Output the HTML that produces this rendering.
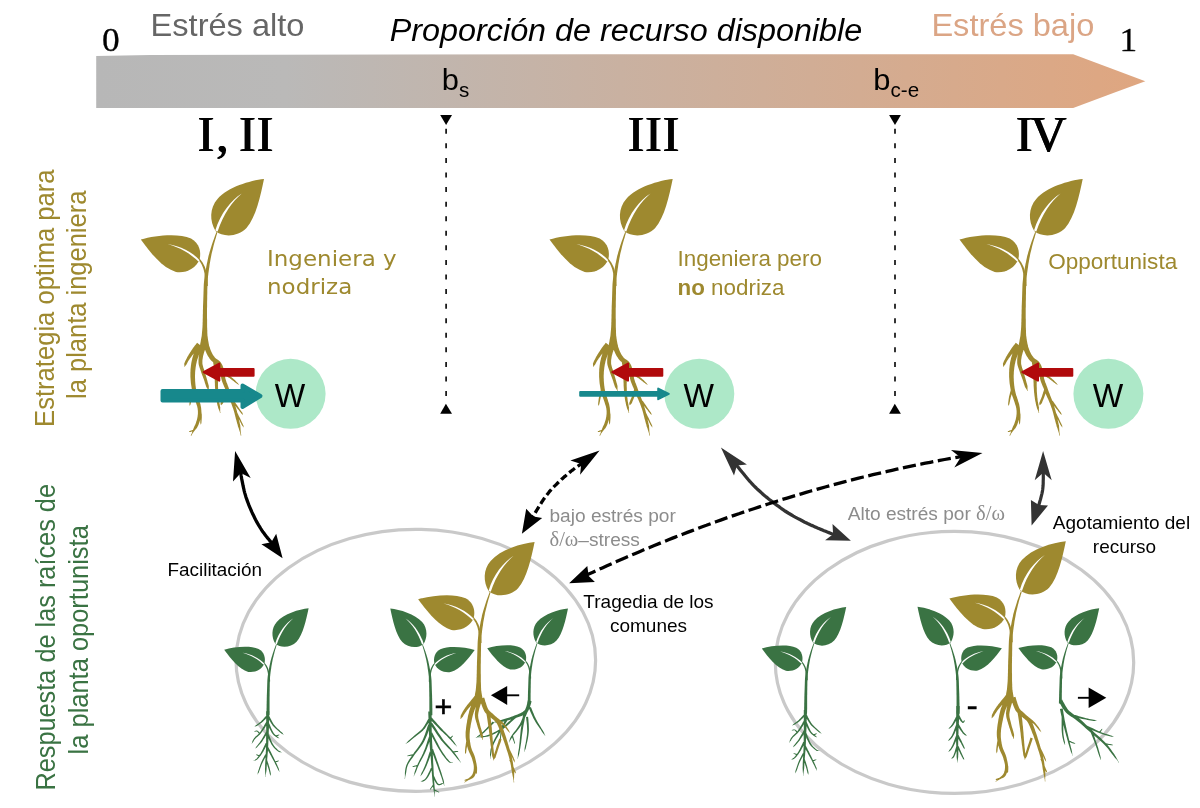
<!DOCTYPE html>
<html lang="es"><head><meta charset="utf-8"><title>Figura</title>
<style>html,body{margin:0;padding:0;background:#fff}body{width:1200px;height:808px;overflow:hidden}svg{display:block}</style>
</head><body>
<svg width="1200" height="808" viewBox="0 0 1200 808">
<defs>
<filter id="hb" x="-5%" y="-5%" width="110%" height="110%" color-interpolation-filters="sRGB"><feOffset in="SourceGraphic" dx="0.5" dy="0" result="a"/><feOffset in="SourceGraphic" dx="-0.5" dy="0" result="b"/><feMerge><feMergeNode in="a"/><feMergeNode in="b"/><feMergeNode in="SourceGraphic"/></feMerge></filter>
<linearGradient id="barg" x1="0" y1="0" x2="1" y2="0">
<stop offset="0" stop-color="#b7b7b7"/><stop offset="0.18" stop-color="#bab9b8"/><stop offset="0.5" stop-color="#c9b1a1"/><stop offset="1" stop-color="#dfa680"/>
</linearGradient>
</defs>
<defs><g id="shoot">
<path d="M264,179 C250,180.5 228,187 217.5,199 C209.5,208 209.5,221 215.5,231 C223,237.5 238,237 246.5,228 C256,217 260.5,196 264,179 Z"/>
<path d="M140.8,239.6 C155,235.5 178,233 191,238.5 C199.5,243 201.5,252 199.5,259.5 C196,268.5 186,273.5 176,272 C162,268 150,252 140.8,239.6 Z"/>
<path d="M216.4,232.0 216.1,233.0 215.6,234.2 215.1,235.6 214.5,237.2 213.9,238.9 213.2,240.7 212.6,242.4 212.1,244.0 211.6,245.6 211.1,247.2 210.6,248.8 210.1,250.4 209.6,252.0 209.2,253.7 208.7,255.3 208.3,256.9 208.0,258.6 207.6,260.2 207.3,261.9 206.9,263.5 206.6,265.2 206.3,266.8 206.0,268.4 205.8,270.0 205.5,271.4 205.3,272.7 205.0,274.0 204.8,275.3 204.6,276.6 204.4,278.1 204.2,279.9 204.0,281.9 203.8,284.3 203.7,287.0 203.6,290.0 203.5,293.1 203.4,296.2 203.3,299.2 203.2,302.0 203.1,304.5 203.0,306.6 203.0,308.6 202.9,310.4 202.9,312.1 202.9,313.6 202.8,315.1 202.8,316.6 202.8,318.0 202.7,319.3 202.7,320.5 202.7,321.7 202.6,322.8 202.6,323.8 202.6,324.8 202.5,325.9 202.5,327.0 202.4,328.1 202.3,329.2 202.2,330.4 202.1,331.5 202.0,332.6 201.9,333.8 201.8,334.9 201.7,335.9 201.5,337.0 201.3,338.1 201.1,339.1 200.9,340.1 200.8,341.1 200.6,342.1 200.4,343.1 200.2,344.0 200.1,344.9 200.0,345.8 199.8,346.7 199.7,347.5 199.6,348.3 199.5,349.0 199.4,349.6 199.3,350.0 209.7,350.0 209.6,349.5 209.5,349.0 209.4,348.3 209.3,347.5 209.1,346.7 209.0,345.8 208.9,344.9 208.8,344.0 208.6,343.1 208.5,342.2 208.3,341.2 208.1,340.2 208.0,339.2 207.8,338.2 207.7,337.1 207.5,336.1 207.4,335.0 207.4,333.9 207.3,332.8 207.3,331.6 207.3,330.5 207.2,329.3 207.2,328.2 207.1,327.0 207.1,325.9 207.1,324.9 207.1,323.8 207.1,322.8 207.1,321.7 207.1,320.6 207.1,319.4 207.0,318.0 207.0,316.6 207.0,315.2 207.0,313.7 207.0,312.1 207.0,310.4 207.0,308.6 207.1,306.7 207.1,304.5 207.1,302.1 207.2,299.3 207.2,296.3 207.3,293.2 207.3,290.1 207.4,287.2 207.5,284.4 207.6,282.1 207.7,280.2 207.8,278.5 208.0,277.1 208.1,275.7 208.3,274.5 208.4,273.2 208.6,271.9 208.8,270.4 209.0,268.9 209.3,267.3 209.5,265.6 209.7,264.0 210.0,262.4 210.3,260.7 210.6,259.1 210.9,257.5 211.2,255.9 211.5,254.2 211.9,252.6 212.3,251.0 212.7,249.4 213.1,247.7 213.5,246.1 213.9,244.6 214.3,242.9 214.8,241.2 215.3,239.4 215.9,237.7 216.3,236.0 216.8,234.5 217.1,233.3 217.4,232.4Z"/>
<path d="M197.7,259.0 197.9,259.3 198.3,259.7 198.7,260.1 199.1,260.6 199.5,261.2 200.0,261.7 200.4,262.3 200.7,263.0 201.1,263.6 201.5,264.3 201.9,265.1 202.2,265.8 202.6,266.7 202.9,267.5 203.3,268.4 203.5,269.3 203.8,270.3 204.0,271.3 204.3,272.4 204.5,273.6 204.6,274.8 204.8,275.9 204.9,277.1 205.0,278.1 205.1,279.2 205.2,280.3 205.2,281.5 205.2,282.6 205.2,283.6 205.2,284.6 205.2,285.4 205.2,286.0 207.8,286.0 207.8,285.4 207.8,284.6 207.7,283.6 207.7,282.5 207.6,281.4 207.6,280.2 207.5,279.0 207.4,277.9 207.2,276.8 207.0,275.6 206.8,274.4 206.6,273.2 206.3,272.0 206.1,270.9 205.8,269.8 205.5,268.7 205.1,267.7 204.8,266.8 204.4,265.9 203.9,265.0 203.5,264.2 203.1,263.5 202.7,262.7 202.3,262.0 201.8,261.4 201.3,260.7 200.8,260.1 200.3,259.5 199.9,259.0 199.5,258.6 199.2,258.3 198.9,258.0Z"/>
<path d="M241.8,193.6 C232.5,201.5 223.5,214 217.6,231.6 L215.3,230.6 C220.5,213.5 231,200.5 241.8,193.6 Z" fill="#fff"/>
<path d="M167.6,244 C180,245.8 192.5,252 199.6,260.2 L198.4,261.6 C191,254 180,247.5 167.6,244 Z" fill="#fff"/>
</g><g id="shootc">
<path d="M264,179 C250,180.5 228,187 217.5,199 C209.5,208 209.5,221 215.5,231 C223,237.5 238,237 246.5,228 C256,217 260.5,196 264,179 Z"/>
<path d="M140.8,239.6 C155,235.5 178,233 191,238.5 C199.5,243 201.5,252 199.5,259.5 C196,268.5 186,273.5 176,272 C162,268 150,252 140.8,239.6 Z"/>
<path d="M216.4,232.0 216.1,233.0 215.6,234.2 215.1,235.6 214.5,237.2 213.9,238.9 213.2,240.7 212.6,242.4 212.1,244.0 211.6,245.6 211.1,247.2 210.6,248.8 210.1,250.4 209.6,252.0 209.2,253.7 208.7,255.3 208.3,256.9 208.0,258.6 207.6,260.2 207.3,261.9 206.9,263.5 206.6,265.2 206.3,266.8 206.0,268.4 205.8,270.0 205.5,271.4 205.3,272.7 205.0,274.0 204.8,275.3 204.6,276.6 204.4,278.1 204.2,279.9 204.0,281.9 203.8,284.3 203.7,287.0 203.6,290.0 203.5,293.1 203.4,296.2 203.3,299.2 203.2,302.0 203.1,304.5 203.0,306.6 203.0,308.6 202.9,310.5 202.9,312.3 202.9,313.9 202.8,315.3 202.8,316.7 202.8,318.0 202.7,319.1 202.7,320.1 202.7,321.0 202.7,321.8 202.6,322.5 202.6,323.1 202.6,323.6 202.6,324.0 207.0,324.0 207.0,323.6 207.0,323.1 207.0,322.6 207.0,321.9 207.0,321.1 207.0,320.2 207.0,319.2 207.0,318.0 207.0,316.8 207.0,315.4 207.0,313.9 207.0,312.3 207.0,310.6 207.0,308.7 207.1,306.7 207.1,304.5 207.1,302.1 207.2,299.3 207.2,296.3 207.3,293.2 207.3,290.1 207.4,287.2 207.5,284.4 207.6,282.1 207.7,280.2 207.8,278.5 208.0,277.1 208.1,275.7 208.3,274.5 208.4,273.2 208.6,271.9 208.8,270.4 209.0,268.9 209.3,267.3 209.5,265.6 209.7,264.0 210.0,262.4 210.3,260.7 210.6,259.1 210.9,257.5 211.2,255.9 211.5,254.2 211.9,252.6 212.3,251.0 212.7,249.4 213.1,247.7 213.5,246.1 213.9,244.6 214.3,242.9 214.8,241.2 215.3,239.4 215.9,237.7 216.3,236.0 216.8,234.5 217.1,233.3 217.4,232.4Z"/>
<path d="M197.7,259.0 197.9,259.3 198.3,259.7 198.7,260.1 199.1,260.6 199.5,261.2 200.0,261.7 200.4,262.3 200.7,263.0 201.1,263.6 201.5,264.3 201.9,265.1 202.2,265.8 202.6,266.7 202.9,267.5 203.3,268.4 203.5,269.3 203.8,270.3 204.0,271.3 204.3,272.4 204.5,273.6 204.6,274.8 204.8,275.9 204.9,277.1 205.0,278.1 205.1,279.2 205.2,280.3 205.2,281.5 205.2,282.6 205.2,283.6 205.2,284.6 205.2,285.4 205.2,286.0 207.8,286.0 207.8,285.4 207.8,284.6 207.7,283.6 207.7,282.5 207.6,281.4 207.6,280.2 207.5,279.0 207.4,277.9 207.2,276.8 207.0,275.6 206.8,274.4 206.6,273.2 206.3,272.0 206.1,270.9 205.8,269.8 205.5,268.7 205.1,267.7 204.8,266.8 204.4,265.9 203.9,265.0 203.5,264.2 203.1,263.5 202.7,262.7 202.3,262.0 201.8,261.4 201.3,260.7 200.8,260.1 200.3,259.5 199.9,259.0 199.5,258.6 199.2,258.3 198.9,258.0Z"/>
<path d="M241.8,193.6 C232.5,201.5 223.5,214 217.6,231.6 L215.3,230.6 C220.5,213.5 231,200.5 241.8,193.6 Z" fill="#fff"/>
<path d="M167.6,244 C180,245.8 192.5,252 199.6,260.2 L198.4,261.6 C191,254 180,247.5 167.6,244 Z" fill="#fff"/>
</g><g id="shootg">
<path d="M264,179 C250,180.5 228,187 217.5,199 C209.5,208 209.5,221 215.5,231 C223,237.5 238,237 246.5,228 C256,217 260.5,196 264,179 Z"/>
<path d="M140.8,239.6 C155,235.5 178,233 191,238.5 C199.5,243 201.5,252 199.5,259.5 C196,268.5 186,273.5 176,272 C162,268 150,252 140.8,239.6 Z"/>
<path d="M216.4,232.0 216.1,233.0 215.6,234.2 215.1,235.6 214.5,237.2 213.9,238.9 213.2,240.7 212.6,242.4 212.1,244.0 211.6,245.6 211.1,247.2 210.6,248.8 210.1,250.4 209.6,252.0 209.2,253.7 208.7,255.3 208.3,256.9 208.0,258.6 207.6,260.2 207.3,261.9 206.9,263.5 206.6,265.2 206.3,266.8 206.0,268.4 205.8,270.0 205.5,271.4 205.3,272.7 205.0,274.0 204.8,275.3 204.6,276.6 204.4,278.1 204.2,279.9 204.0,281.9 203.8,284.3 203.7,287.0 203.6,290.0 203.5,293.1 203.4,296.2 203.3,299.2 203.2,302.0 203.1,304.5 203.0,306.6 203.0,308.6 202.9,310.4 202.9,312.1 202.9,313.6 202.8,315.1 202.8,316.6 202.8,318.0 202.7,319.3 202.7,320.6 202.7,321.7 202.7,322.8 202.7,323.9 202.6,324.9 202.6,325.9 202.6,327.0 202.6,328.1 202.6,329.2 202.6,330.4 202.6,331.5 202.6,332.6 202.6,333.6 202.6,334.4 202.6,335.0 206.8,335.0 206.8,334.4 206.8,333.6 206.9,332.7 206.9,331.6 206.9,330.5 206.9,329.3 207.0,328.1 207.0,327.0 207.0,326.0 207.0,324.9 207.0,323.9 207.0,322.9 207.0,321.8 207.0,320.6 207.0,319.4 207.0,318.0 207.0,316.6 207.0,315.2 207.0,313.7 207.0,312.1 207.0,310.4 207.0,308.6 207.1,306.7 207.1,304.5 207.1,302.1 207.2,299.3 207.2,296.3 207.3,293.2 207.3,290.1 207.4,287.2 207.5,284.4 207.6,282.1 207.7,280.2 207.8,278.5 208.0,277.1 208.1,275.7 208.3,274.5 208.4,273.2 208.6,271.9 208.8,270.4 209.0,268.9 209.3,267.3 209.5,265.6 209.7,264.0 210.0,262.4 210.3,260.7 210.6,259.1 210.9,257.5 211.2,255.9 211.5,254.2 211.9,252.6 212.3,251.0 212.7,249.4 213.1,247.7 213.5,246.1 213.9,244.6 214.3,242.9 214.8,241.2 215.3,239.4 215.9,237.7 216.3,236.0 216.8,234.5 217.1,233.3 217.4,232.4Z"/>
<path d="M197.7,259.0 197.9,259.3 198.3,259.7 198.7,260.1 199.1,260.6 199.5,261.2 200.0,261.7 200.4,262.3 200.7,263.0 201.1,263.6 201.5,264.3 201.9,265.1 202.2,265.8 202.6,266.7 202.9,267.5 203.3,268.4 203.5,269.3 203.8,270.3 204.0,271.3 204.3,272.4 204.5,273.6 204.6,274.8 204.8,275.9 204.9,277.1 205.0,278.1 205.1,279.2 205.2,280.3 205.2,281.5 205.2,282.6 205.2,283.6 205.2,284.6 205.2,285.4 205.2,286.0 207.8,286.0 207.8,285.4 207.8,284.6 207.7,283.6 207.7,282.5 207.6,281.4 207.6,280.2 207.5,279.0 207.4,277.9 207.2,276.8 207.0,275.6 206.8,274.4 206.6,273.2 206.3,272.0 206.1,270.9 205.8,269.8 205.5,268.7 205.1,267.7 204.8,266.8 204.4,265.9 203.9,265.0 203.5,264.2 203.1,263.5 202.7,262.7 202.3,262.0 201.8,261.4 201.3,260.7 200.8,260.1 200.3,259.5 199.9,259.0 199.5,258.6 199.2,258.3 198.9,258.0Z"/>
<path d="M241.8,193.6 C232.5,201.5 223.5,214 217.6,231.6 L215.3,230.6 C220.5,213.5 231,200.5 241.8,193.6 Z" fill="#fff"/>
<path d="M167.6,244 C180,245.8 192.5,252 199.6,260.2 L198.4,261.6 C191,254 180,247.5 167.6,244 Z" fill="#fff"/>
</g><g id="troots"><path d="M197.1,342.7 196.7,343.2 196.2,343.9 195.6,344.7 194.9,345.6 194.2,346.6 193.4,347.6 192.7,348.5 192.1,349.4 191.5,350.3 191.0,351.2 190.4,352.0 189.8,352.9 189.3,353.7 188.8,354.6 188.3,355.4 187.8,356.3 187.3,357.1 186.9,357.9 186.5,358.7 186.1,359.5 185.7,360.3 185.3,361.0 185.0,361.7 184.7,362.4 184.5,363.1 184.2,363.7 184.3,364.4 184.3,365.0 184.4,365.6 184.5,366.1 184.4,366.5 184.3,366.7 184.8,366.9 184.9,366.6 185.0,366.2 185.3,365.9 185.6,365.4 186.1,365.0 186.5,364.5 186.7,364.0 187.0,363.4 187.3,362.9 187.6,362.2 188.0,361.5 188.5,360.8 188.9,360.1 189.4,359.4 189.9,358.6 190.4,357.9 190.9,357.2 191.5,356.4 192.1,355.6 192.6,354.9 193.3,354.1 193.9,353.3 194.5,352.5 195.2,351.7 195.8,350.9 196.6,350.1 197.4,349.2 198.2,348.3 198.9,347.4 199.6,346.7 200.2,346.0 200.6,345.5Z M197.3,344.9 197.0,345.5 196.7,346.4 196.2,347.4 195.7,348.6 195.2,349.8 194.7,351.1 194.2,352.4 193.7,353.6 193.4,354.7 193.0,355.9 192.7,357.0 192.3,358.2 192.1,359.4 191.8,360.6 191.5,361.9 191.3,363.1 191.1,364.4 190.9,365.7 190.8,367.1 190.6,368.4 190.5,369.8 190.5,371.2 190.4,372.5 190.4,373.9 190.4,375.3 190.4,376.6 190.5,378.0 190.6,379.4 190.7,380.7 190.8,382.0 190.9,383.3 191.1,384.6 191.3,385.8 191.5,387.1 191.7,388.3 191.9,389.4 192.1,390.6 192.4,391.7 192.7,392.9 193.0,394.0 193.3,395.0 193.6,396.1 194.0,397.1 194.4,398.1 194.7,399.0 195.1,400.0 195.4,400.9 195.7,401.8 196.0,402.7 196.3,403.7 196.6,404.7 196.9,405.6 197.2,406.5 197.4,407.4 197.6,408.3 197.7,409.2 197.8,410.1 197.9,411.0 197.9,411.9 197.9,412.9 197.9,413.8 197.8,414.7 197.7,415.6 197.6,416.5 197.4,417.5 197.2,418.4 197.0,419.4 196.7,420.4 196.4,421.3 196.1,422.3 195.8,423.2 195.5,424.0 195.2,424.8 194.8,425.5 194.4,426.2 194.1,427.0 193.8,427.7 193.5,428.5 193.2,429.3 192.9,430.0 192.6,430.8 192.3,431.6 192.1,432.5 191.8,433.3 191.5,434.0 191.2,434.6 190.9,435.1 190.7,435.5 191.3,435.8 191.5,435.4 191.8,434.9 192.1,434.3 192.5,433.6 192.9,432.9 193.4,432.2 193.9,431.5 194.4,430.9 194.9,430.3 195.4,429.7 195.9,429.1 196.5,428.4 197.0,427.7 197.4,426.9 197.9,426.1 198.3,425.2 198.7,424.3 199.0,423.3 199.4,422.3 199.7,421.3 200.1,420.3 200.4,419.2 200.6,418.1 200.8,417.1 201.0,416.1 201.2,415.0 201.3,414.0 201.3,413.0 201.4,411.9 201.4,410.9 201.3,409.9 201.2,408.8 201.1,407.8 200.9,406.7 200.7,405.7 200.5,404.6 200.2,403.6 199.9,402.6 199.6,401.7 199.3,400.7 199.1,399.7 198.7,398.7 198.4,397.7 198.1,396.7 197.7,395.8 197.4,394.9 197.2,393.9 196.9,392.9 196.7,391.9 196.4,390.8 196.2,389.8 196.0,388.7 195.8,387.6 195.7,386.4 195.5,385.3 195.4,384.1 195.3,382.9 195.2,381.7 195.1,380.4 195.1,379.1 195.0,377.8 195.0,376.5 195.0,375.3 195.1,374.0 195.1,372.8 195.2,371.5 195.3,370.2 195.5,368.9 195.6,367.7 195.8,366.4 196.0,365.2 196.2,364.0 196.5,362.9 196.7,361.8 197.0,360.7 197.3,359.6 197.7,358.5 198.0,357.5 198.4,356.4 198.7,355.4 199.2,354.3 199.6,353.2 200.2,352.0 200.7,350.8 201.2,349.7 201.7,348.7 202.1,347.8 202.4,347.2Z M192.3,389.2 192.1,389.8 191.9,390.6 191.7,391.6 191.4,392.6 191.1,393.8 190.8,394.9 190.5,396.1 190.3,397.1 190.1,398.3 189.9,399.5 189.8,400.7 189.6,401.9 189.5,403.1 189.4,404.2 189.6,405.1 189.6,405.8 189.9,405.8 190.1,405.2 190.6,404.3 190.8,403.3 191.0,402.2 191.3,401.0 191.5,399.7 191.8,398.6 192.0,397.5 192.3,396.5 192.6,395.4 193.0,394.3 193.3,393.2 193.7,392.2 194.0,391.2 194.3,390.5 194.5,389.9Z M198.9,409.2 199.0,409.7 199.2,410.3 199.4,411.1 199.6,411.9 199.8,412.8 200.0,413.7 200.2,414.6 200.3,415.6 200.3,416.6 200.4,417.8 200.4,419.1 200.3,420.4 200.3,421.7 200.3,422.9 200.6,423.9 200.6,424.6 200.9,424.6 201.1,423.9 201.4,422.9 201.5,421.8 201.6,420.5 201.7,419.2 201.8,417.8 201.8,416.6 201.8,415.5 201.8,414.4 201.6,413.4 201.5,412.4 201.3,411.5 201.2,410.7 201.0,409.9 200.9,409.3 200.8,408.8Z M193.7,429.4 193.1,429.7 192.5,429.9 191.9,430.2 191.3,430.4 190.7,430.6 190.1,430.9 189.5,431.1 189.1,431.6 189.1,431.9 189.8,432.0 190.5,431.9 191.1,431.7 191.7,431.6 192.3,431.4 192.9,431.3 193.5,431.1 194.1,430.9Z M200.9,347.4 200.8,348.0 200.6,348.7 200.3,349.7 200.0,350.8 199.7,351.9 199.4,353.1 199.2,354.3 199.0,355.4 198.8,356.4 198.7,357.4 198.6,358.5 198.5,359.5 198.5,360.6 198.5,361.6 198.5,362.7 198.6,363.8 198.8,364.9 199.1,366.0 199.4,367.0 199.7,368.0 200.1,369.0 200.4,370.0 200.8,370.9 201.1,371.9 201.4,372.9 201.8,373.9 202.2,374.9 202.5,375.9 202.9,376.8 203.2,377.8 203.6,378.7 203.9,379.6 204.2,380.5 204.5,381.3 204.7,382.2 205.0,383.0 205.2,383.8 205.5,384.5 205.7,385.3 206.0,386.0 206.2,386.8 206.6,387.5 207.1,388.2 207.5,388.8 207.9,389.5 208.3,390.0 208.4,390.5 208.5,390.9 209.1,390.8 209.0,390.4 208.9,389.9 208.8,389.2 208.8,388.5 208.8,387.7 208.8,386.8 208.8,386.0 208.6,385.3 208.4,384.5 208.2,383.8 208.0,383.0 207.7,382.2 207.5,381.3 207.3,380.5 207.0,379.6 206.8,378.7 206.5,377.8 206.2,376.8 205.9,375.8 205.6,374.8 205.3,373.8 204.9,372.8 204.6,371.8 204.4,370.8 204.1,369.8 203.8,368.8 203.4,367.9 203.2,366.9 202.9,366.0 202.7,365.1 202.5,364.2 202.4,363.4 202.4,362.5 202.4,361.6 202.4,360.7 202.5,359.8 202.6,358.9 202.8,358.0 202.9,357.1 203.1,356.1 203.3,355.2 203.6,354.2 203.9,353.1 204.2,352.0 204.6,351.0 204.9,350.0 205.1,349.2 205.3,348.6Z M203.8,346.3 204.0,346.9 204.3,347.7 204.7,348.7 205.1,349.8 205.5,351.0 206.0,352.1 206.5,353.3 207.0,354.3 207.5,355.2 207.9,356.0 208.4,356.8 209.0,357.6 209.5,358.4 210.1,359.2 210.7,359.9 211.4,360.7 212.2,361.4 213.1,362.1 214.0,362.7 214.8,363.2 215.5,363.7 216.2,364.2 216.7,364.7 217.2,365.2 217.6,365.8 218.0,366.6 218.4,367.4 218.8,368.2 219.2,369.1 219.5,370.1 219.9,371.0 220.2,371.9 220.4,372.8 220.6,373.6 220.7,374.5 220.8,375.5 221.0,376.5 221.1,377.5 221.3,378.6 221.6,379.7 221.9,380.7 222.2,381.7 222.6,382.8 223.0,383.8 223.4,384.7 223.8,385.7 224.2,386.7 224.6,387.6 225.0,388.6 225.4,389.5 225.8,390.5 226.1,391.5 226.5,392.5 226.9,393.4 227.3,394.4 227.7,395.4 228.2,396.4 228.6,397.4 229.0,398.3 229.5,399.3 229.9,400.3 230.3,401.2 230.7,402.2 231.1,403.1 231.5,404.0 231.8,405.0 232.2,406.0 232.5,406.9 232.9,407.9 233.2,408.8 233.5,409.8 233.8,410.7 234.1,411.7 234.3,412.6 234.6,413.6 234.8,414.5 235.1,415.5 235.3,416.5 235.6,417.5 235.8,418.4 236.1,419.4 236.4,420.3 236.6,421.3 236.9,422.2 237.1,423.2 237.4,424.1 237.7,425.1 237.9,426.2 238.3,427.3 238.8,428.6 239.2,430.0 239.7,431.4 240.1,432.7 240.4,433.9 240.6,434.9 240.8,435.7 241.3,435.6 241.2,434.8 241.0,433.8 240.8,432.6 240.7,431.2 240.6,429.7 240.5,428.3 240.4,426.9 240.3,425.6 240.0,424.6 239.8,423.5 239.6,422.5 239.4,421.6 239.1,420.6 238.9,419.7 238.7,418.7 238.4,417.8 238.2,416.8 238.0,415.9 237.8,414.9 237.6,413.9 237.4,412.9 237.1,411.9 236.9,410.9 236.6,409.9 236.3,408.9 236.0,407.9 235.7,406.9 235.4,405.9 235.1,405.0 234.8,404.0 234.4,403.0 234.1,402.0 233.7,401.0 233.3,400.0 232.9,399.0 232.5,398.0 232.1,397.0 231.7,396.0 231.3,395.1 231.0,394.1 230.6,393.1 230.2,392.2 229.9,391.2 229.5,390.2 229.2,389.2 228.8,388.2 228.5,387.3 228.1,386.3 227.7,385.3 227.4,384.3 227.0,383.3 226.6,382.4 226.3,381.4 226.0,380.5 225.7,379.5 225.4,378.7 225.3,377.8 225.1,376.9 225.0,376.0 224.9,375.0 224.8,374.0 224.7,373.0 224.5,371.9 224.3,370.8 224.0,369.8 223.6,368.7 223.3,367.7 222.9,366.6 222.5,365.5 222.0,364.5 221.4,363.5 220.8,362.5 220.0,361.5 219.1,360.7 218.2,360.0 217.4,359.4 216.6,358.9 215.9,358.4 215.3,357.9 214.8,357.4 214.4,356.8 213.9,356.2 213.4,355.6 213.0,355.0 212.6,354.3 212.2,353.6 211.8,352.8 211.5,352.1 211.1,351.2 210.7,350.2 210.3,349.2 209.9,348.0 209.5,347.0 209.2,346.0 208.9,345.1 208.7,344.5Z M212.7,360.0 212.9,360.7 213.0,361.6 213.2,362.7 213.4,364.0 213.7,365.2 213.9,366.5 214.1,367.8 214.2,368.9 214.3,370.0 214.4,371.1 214.4,372.1 214.5,373.2 214.5,374.3 214.6,375.4 214.6,376.6 214.6,377.9 214.7,379.2 214.8,380.6 214.8,382.1 214.9,383.6 214.9,385.2 215.0,386.7 215.1,388.2 215.2,389.6 215.3,391.0 215.4,392.4 215.6,393.8 215.7,395.1 215.9,396.4 216.1,397.7 216.2,398.9 216.4,400.1 216.6,401.3 216.9,402.3 217.1,403.4 217.3,404.4 217.5,405.4 217.8,406.3 218.0,407.1 218.2,407.9 218.5,408.7 218.8,409.5 219.2,410.2 219.4,410.9 219.7,411.5 219.8,412.1 219.9,412.6 220.0,413.0 220.5,412.9 220.4,412.5 220.3,412.0 220.2,411.4 220.2,410.7 220.2,410.0 220.2,409.2 220.2,408.4 220.3,407.5 220.1,406.7 219.9,405.8 219.8,404.9 219.6,403.9 219.4,402.9 219.2,401.9 219.0,400.9 218.9,399.8 218.8,398.6 218.6,397.4 218.5,396.1 218.4,394.8 218.3,393.5 218.2,392.2 218.1,390.8 218.1,389.5 218.1,388.1 218.0,386.6 218.0,385.1 218.0,383.6 218.1,382.1 218.1,380.6 218.1,379.2 218.1,377.8 218.1,376.6 218.1,375.4 218.1,374.2 218.1,373.1 218.1,372.0 218.1,370.9 218.1,369.8 218.0,368.6 217.9,367.3 217.8,366.0 217.6,364.7 217.4,363.3 217.3,362.1 217.1,361.0 217.0,360.1 216.9,359.4Z M225.5,389.1 225.3,389.7 225.1,390.6 224.8,391.5 224.4,392.6 224.1,393.7 223.7,394.8 223.4,395.9 223.0,396.9 222.6,397.9 222.2,399.0 221.7,400.1 221.3,401.3 220.8,402.3 220.5,403.3 220.8,404.4 220.6,405.0 221.2,405.2 221.6,404.7 222.5,404.1 223.0,403.2 223.5,402.2 223.9,401.1 224.4,399.9 224.9,398.8 225.3,397.8 225.7,396.7 226.1,395.6 226.5,394.5 226.9,393.3 227.2,392.3 227.5,391.3 227.8,390.5 228.0,390.0Z M221.4,372.4 221.9,372.7 222.5,373.2 223.2,373.7 224.1,374.3 224.9,375.0 225.8,375.6 226.7,376.2 227.4,376.7 228.1,377.2 228.8,377.7 229.5,378.1 230.1,378.6 230.7,379.0 231.4,379.4 232.1,379.9 232.7,380.4 233.5,381.0 234.3,381.7 235.2,382.4 236.1,383.1 236.9,383.8 237.8,384.3 238.5,384.7 239.0,385.1 239.2,384.9 238.7,384.5 238.3,383.8 237.7,382.9 236.9,382.2 236.1,381.4 235.3,380.6 234.5,379.8 233.8,379.2 233.1,378.6 232.4,378.1 231.8,377.6 231.2,377.1 230.6,376.6 230.0,376.1 229.3,375.6 228.7,375.1 228.0,374.5 227.2,373.8 226.4,373.1 225.5,372.5 224.8,371.8 224.1,371.2 223.5,370.7 223.0,370.3Z M232.5,401.8 232.8,402.3 233.3,403.0 233.9,403.8 234.6,404.7 235.2,405.6 235.9,406.5 236.6,407.4 237.2,408.2 237.7,408.9 238.3,409.6 238.9,410.3 239.4,411.0 239.9,411.7 240.4,412.3 240.8,412.8 241.2,413.3 241.5,413.7 241.8,414.0 242.1,414.2 242.4,414.4 242.6,414.5 242.7,414.7 242.8,414.8 242.9,414.9 243.1,414.8 243.0,414.7 242.9,414.5 242.9,414.3 242.8,414.1 242.7,413.8 242.6,413.4 242.5,413.0 242.2,412.6 241.8,412.1 241.4,411.5 241.0,410.9 240.5,410.2 240.0,409.5 239.4,408.8 238.9,408.0 238.4,407.3 237.9,406.5 237.3,405.6 236.6,404.6 236.0,403.7 235.4,402.7 234.8,401.9 234.4,401.2 234.0,400.7Z M235.1,412.0 235.4,412.6 235.8,413.4 236.3,414.4 236.9,415.5 237.5,416.6 238.1,417.7 238.6,418.8 239.1,419.7 239.6,420.6 240.1,421.5 240.5,422.5 241.0,423.3 241.4,424.2 241.8,424.9 242.2,425.6 242.5,426.1 242.9,426.5 243.1,426.8 243.3,427.0 243.4,427.1 243.4,427.3 243.5,427.3 243.5,427.4 243.5,427.5 243.8,427.4 243.7,427.3 243.7,427.3 243.7,427.2 243.6,427.0 243.6,426.9 243.6,426.6 243.5,426.2 243.5,425.7 243.2,425.1 242.9,424.4 242.5,423.6 242.1,422.8 241.7,421.9 241.3,420.9 240.8,420.0 240.4,419.1 239.9,418.1 239.4,417.0 238.8,415.9 238.3,414.8 237.8,413.7 237.3,412.7 236.9,411.8 236.6,411.2Z"/></g></defs>
<rect width="1200" height="808" fill="#fff"/>
<g id="all" opacity="0.999">
<path d="M96.2,56 L150,55 L400,54.4 L1073.2,54.2 L1145.3,81.2 L1073.2,108 L96.2,108.1 Z" fill="url(#barg)"/>
<text transform="translate(102.00,51.00) scale(1.0800,1.0000)" font-family="'Liberation Serif',serif" font-size="32.80" fill="#000" stroke="#000" stroke-width="0.30" stroke-linejoin="round">0</text>
<text transform="translate(1119.50,51.00) scale(1.0800,1.0000)" font-family="'Liberation Serif',serif" font-size="32.80" fill="#000" stroke="#000" stroke-width="0.30" stroke-linejoin="round">1</text>
<text transform="translate(150.60,36.40) scale(1.0310,1.0000)" font-family="'Liberation Sans',sans-serif" font-size="31.60" fill="#666">Estrés alto</text>
<text transform="translate(931.40,36.40) scale(1.0310,1.0000)" font-family="'Liberation Sans',sans-serif" font-size="31.60" fill="#dba585">Estrés bajo</text>
<text transform="translate(389.80,40.50) scale(1.0070,1.0000)" font-family="'Liberation Sans',sans-serif" font-size="32.10" fill="#000" font-style="italic">Proporción de recurso disponible</text>
<text transform="translate(441.80,89.60) scale(1.0300,1.0000)" font-family="'Liberation Sans',sans-serif" font-size="30.00" fill="#000">b<tspan font-size="20" dy="7.5">s</tspan></text>
<text transform="translate(873.30,89.60) scale(1.0300,1.0000)" font-family="'Liberation Sans',sans-serif" font-size="30.00" fill="#000">b<tspan font-size="20" dy="7.5">c-e</tspan></text>
<text x="197.2 215.8 228.0 238.7 256.2" y="151.2" font-family="'Liberation Serif',serif" font-size="50.0" filter="url(#hb)">I, II</text>
<text x="627.2 644.7 662.2" y="151.2" font-family="'Liberation Serif',serif" font-size="50.0" filter="url(#hb)">III</text>
<text x="1015.4 1030.0" y="151.2" font-family="'Liberation Serif',serif" font-size="50.0" filter="url(#hb)">IV</text>
<polygon points="440.2,115 452.0,115 446.1,124.9" fill="#000"/>
<polygon points="440.2,413.8 452.0,413.8 445.9,403.7" fill="#000"/>
<line x1="446.1" y1="128.8" x2="446.1" y2="397" stroke="#000" stroke-width="1.6" stroke-dasharray="5 9.57"/>
<polygon points="889.1,115 900.9,115 895.0,124.9" fill="#000"/>
<polygon points="889.1,413.8 900.9,413.8 894.8,403.7" fill="#000"/>
<line x1="895.0" y1="128.8" x2="895.0" y2="397" stroke="#000" stroke-width="1.6" stroke-dasharray="5 9.57"/>
<text transform="translate(53.60,298.20) rotate(-90) scale(1.0000,1.0600)" font-family="'Liberation Sans',sans-serif" font-size="25.60" fill="#9e892f" text-anchor="middle">Estrategia optima para</text>
<text transform="translate(86.20,294.80) rotate(-90) scale(1.0000,1.0600)" font-family="'Liberation Sans',sans-serif" font-size="25.50" fill="#9e892f" text-anchor="middle">la planta ingeniera</text>
<text transform="translate(54.80,637.30) rotate(-90) scale(1.0000,1.0600)" font-family="'Liberation Sans',sans-serif" font-size="25.30" fill="#3a7343" text-anchor="middle">Respuesta de las raíces de</text>
<text transform="translate(87.60,639.80) rotate(-90) scale(1.0000,1.0600)" font-family="'Liberation Sans',sans-serif" font-size="25.45" fill="#3a7343" text-anchor="middle">la planta oportunista</text>
<g transform="translate(0.0,0)" fill="#9e892f" color="#9e892f"><use href="#shoot"/><use href="#troots"/></g>
<g transform="translate(408.7,0)" fill="#9e892f" color="#9e892f"><use href="#shoot"/><use href="#troots"/></g>
<g transform="translate(818.7,0)" fill="#9e892f" color="#9e892f"><use href="#shoot"/><use href="#troots"/></g>
<circle cx="290.6" cy="393.8" r="35" fill="#ade8c8"/>
<text transform="translate(290.10,406.60)" font-family="'Liberation Sans',sans-serif" font-size="32.30" fill="#000" text-anchor="middle">W</text>
<circle cx="699.3" cy="393.8" r="35" fill="#ade8c8"/>
<text transform="translate(698.80,406.60)" font-family="'Liberation Sans',sans-serif" font-size="32.30" fill="#000" text-anchor="middle">W</text>
<circle cx="1108.4" cy="393.8" r="35" fill="#ade8c8"/>
<text transform="translate(1107.90,406.60)" font-family="'Liberation Sans',sans-serif" font-size="32.30" fill="#000" text-anchor="middle">W</text>
<path transform="translate(0.0,0)" d="M253.6,368.9 L219.3,368.9 L219.3,363.6 L203.6,372.1 L219.3,380.6 L219.3,375.7 L253.6,375.7 Z" fill="#b10a0c" stroke="#b10a0c" stroke-width="2" stroke-linejoin="round"/>
<path transform="translate(408.7,0)" d="M253.6,368.9 L219.3,368.9 L219.3,363.6 L203.6,372.1 L219.3,380.6 L219.3,375.7 L253.6,375.7 Z" fill="#b10a0c" stroke="#b10a0c" stroke-width="2" stroke-linejoin="round"/>
<path transform="translate(818.7,0)" d="M253.6,368.9 L219.3,368.9 L219.3,363.6 L203.6,372.1 L219.3,380.6 L219.3,375.7 L253.6,375.7 Z" fill="#b10a0c" stroke="#b10a0c" stroke-width="2" stroke-linejoin="round"/>
<path d="M162.5,391.0 L242.5,391.0 L242.5,385.5 L260.5,396 L242.5,407 L242.5,400.6 L162.5,400.6 Z" fill="#17888c" stroke="#17888c" stroke-width="4" stroke-linejoin="round"/>
<path d="M580.2,392.0 L658.2,392.0 L658.2,388.6 L668.8,393.8 L658.2,399.2 L658.2,395.8 L580.2,395.8 Z" fill="#17888c" stroke="#17888c" stroke-width="2" stroke-linejoin="round"/>
<text transform="translate(267.00,266.00) scale(1.0450,1.0000)" font-family="'DejaVu Sans','Liberation Sans',sans-serif" font-size="22.00" fill="#9e892f">Ingeniera y</text>
<text transform="translate(267.00,294.40) scale(1.0450,1.0000)" font-family="'DejaVu Sans','Liberation Sans',sans-serif" font-size="22.00" fill="#9e892f">nodriza</text>
<text x="677.5" y="265.8" font-family="'Liberation Sans',sans-serif" font-size="22.4" fill="#9e892f">Ingeniera pero</text>
<text x="677.5" y="295.1" font-family="'Liberation Sans',sans-serif" font-size="22.4" fill="#9e892f"><tspan font-weight="bold">no</tspan> nodriza</text>
<text transform="translate(1048.20,268.80) scale(1.0150,1.0000)" font-family="'Liberation Sans',sans-serif" font-size="22.20" fill="#9e892f">Opportunista</text>
<ellipse cx="415.8" cy="660.3" rx="179.8" ry="131" fill="none" stroke="#c9c9c9" stroke-width="3.2"/>
<ellipse cx="954.5" cy="662.4" rx="179.2" ry="131" fill="none" stroke="#c9c9c9" stroke-width="3.2"/>
<text x="167.5" y="576" font-family="'Liberation Sans',sans-serif" font-size="18.9">Facilitación</text>
<text x="549.5" y="521.5" font-family="'Liberation Sans',sans-serif" font-size="19.1" fill="#8c8c8c">bajo estrés por</text>
<text x="549.5" y="545.8" font-family="'Liberation Sans',sans-serif" font-size="19.1" fill="#8c8c8c"><tspan font-family="'Liberation Serif',serif" font-size="20.5">δ/ω</tspan>–stress</text>
<text x="648.5" y="607.7" text-anchor="middle" font-family="'Liberation Sans',sans-serif" font-size="19">Tragedia de los</text>
<text x="648.5" y="631.5" text-anchor="middle" font-family="'Liberation Sans',sans-serif" font-size="19">comunes</text>
<text x="847.7" y="520.3" font-family="'Liberation Sans',sans-serif" font-size="19.1" fill="#8c8c8c">Alto estrés por <tspan font-family="'Liberation Serif',serif" font-size="20.5">δ/ω</tspan></text>
<text x="1121.5" y="529.3" text-anchor="middle" font-family="'Liberation Sans',sans-serif" font-size="19">Agotamiento del</text>
<text x="1124.5" y="553.3" text-anchor="middle" font-family="'Liberation Sans',sans-serif" font-size="19">recurso</text>
<path d="M240.3,471.1 L240.6,472.4 L240.9,474.1 L241.2,476.1 L241.6,478.4 L242.1,480.9 L242.6,483.4 L243.1,486.0 L243.7,488.5 L244.2,490.9 L244.8,493.1 L245.4,495.1 L246.0,497.2 L246.7,499.1 L247.4,501.1 L248.1,503.0 L248.8,504.9 L249.6,506.8 L250.4,508.7 L251.2,510.5 L252.0,512.4 L252.9,514.3 L253.8,516.1 L254.7,518.0 L255.6,519.8 L256.6,521.6 L257.6,523.4 L258.6,525.1 L259.7,526.8 L260.7,528.5 L261.7,530.1 L262.8,531.7 L264.0,533.3 L265.2,534.9 L266.4,536.5 L267.7,538.1 L268.9,539.5 L270.0,540.9 L271.0,542.0 L271.8,543.0 L272.4,543.8" fill="none" stroke="#000" stroke-width="3.3"/><polygon points="235.1,450.9 233.0,481.5 240.8,473.0 250.7,478.1" fill="#000"/><polygon points="282.6,558.3 261.4,544.3 271.3,542.2 276.2,533.8" fill="#000"/>
<path d="M583.6,462.2 L582.9,462.8 L581.9,463.5 L580.7,464.3 L579.4,465.2 L578.0,466.1 L576.5,467.2 L575.0,468.2 L573.6,469.3 L572.2,470.3 L571.0,471.2 L569.9,472.1 L568.8,473.0 L567.7,473.9 L566.7,474.8 L565.7,475.7 L564.6,476.6 L563.6,477.5 L562.6,478.4 L561.6,479.3 L560.6,480.3 L559.6,481.3 L558.5,482.3 L557.4,483.3 L556.4,484.3 L555.3,485.4 L554.2,486.4 L553.2,487.5 L552.2,488.5 L551.2,489.6 L550.3,490.6 L549.4,491.6 L548.6,492.7 L547.8,493.7 L547.0,494.7 L546.2,495.7 L545.5,496.7 L544.7,497.8 L544.0,498.8 L543.2,499.9 L542.5,501.0 L541.7,502.1 L541.0,503.3 L540.2,504.6 L539.4,505.8 L538.6,507.1 L537.9,508.3 L537.2,509.5 L536.5,510.7 L535.9,511.7 L535.3,512.7 L534.8,513.6 L534.3,514.4 L533.9,515.2 L533.4,515.9 L533.1,516.6 L532.7,517.3 L532.4,517.8 L532.2,518.3 L531.9,518.7 L531.7,519.1" fill="none" stroke="#000" stroke-width="3.3" stroke-dasharray="7.2 3.4"/><polygon points="599.6,450.6 570.4,460.5 581.2,464.0 580.1,474.8" fill="#000"/><polygon points="521.9,533.8 526.2,508.8 533.4,516.6 542.2,517.9" fill="#000"/>
<path d="M735.6,464.0 L736.4,465.0 L737.5,466.4 L738.8,468.0 L740.3,469.9 L741.8,471.8 L743.5,473.8 L745.1,475.8 L746.7,477.7 L748.2,479.5 L749.6,481.1 L750.9,482.5 L752.1,483.8 L753.3,485.1 L754.5,486.3 L755.7,487.5 L756.8,488.6 L758.0,489.7 L759.2,490.8 L760.3,491.8 L761.5,492.9 L762.7,494.0 L763.8,495.0 L765.0,495.9 L766.1,496.9 L767.3,497.8 L768.4,498.8 L769.6,499.7 L770.8,500.6 L772.1,501.6 L773.4,502.6 L774.7,503.6 L776.1,504.6 L777.5,505.7 L779.0,506.7 L780.4,507.8 L781.9,508.9 L783.4,509.9 L785.0,511.0 L786.6,512.0 L788.2,513.0 L789.9,514.0 L791.6,515.0 L793.4,516.1 L795.2,517.1 L797.1,518.1 L798.9,519.1 L800.8,520.0 L802.6,521.0 L804.3,521.9 L806.0,522.7 L807.6,523.5 L809.2,524.2 L810.7,525.0 L812.2,525.6 L813.7,526.3 L815.1,526.9 L816.6,527.6 L818.0,528.2 L819.5,528.8 L820.9,529.4 L822.4,530.0 L824.0,530.7 L825.6,531.3 L827.3,532.0 L828.9,532.6 L830.4,533.2 L831.8,533.8 L833.1,534.2 L834.1,534.7 L835.0,535.0" fill="none" stroke="#333" stroke-width="3.3"/><polygon points="720.9,447.6 734.0,475.4 736.9,465.5 746.9,464.4" fill="#333"/><polygon points="850.9,540.8 832.5,523.9 833.1,534.3 825.1,540.2" fill="#333"/>
<path d="M583.4,576.5 L587.6,574.6 L592.9,572.2 L597.6,570.0 L602.3,567.9 L607.0,565.8 L611.8,563.7 L616.5,561.6 L621.2,559.5 L625.9,557.5 L630.7,555.4 L635.4,553.4 L640.1,551.4 L644.8,549.4 L649.6,547.5 L654.3,545.5 L659.0,543.6 L663.8,541.7 L668.5,539.8 L673.2,537.9 L677.9,536.1 L682.7,534.2 L687.4,532.4 L692.2,530.6 L696.9,528.8 L701.6,527.0 L706.4,525.3 L711.1,523.5 L715.9,521.8 L720.6,520.1 L725.3,518.4 L730.1,516.7 L734.8,515.1 L739.6,513.5 L744.3,511.8 L749.1,510.2 L753.8,508.7 L758.6,507.1 L763.3,505.5 L768.1,504.0 L772.8,502.5 L777.6,501.0 L782.3,499.5 L787.1,498.1 L791.9,496.6 L796.6,495.2 L801.4,493.8 L806.1,492.4 L810.9,491.0 L815.7,489.7 L820.4,488.3 L825.2,487.0 L829.9,485.7 L834.7,484.4 L839.5,483.1 L844.2,481.9 L849.0,480.6 L853.8,479.4 L858.6,478.2 L863.3,477.0 L868.1,475.9 L872.9,474.7 L877.6,473.6 L882.4,472.5 L887.2,471.4 L892.0,470.3 L896.8,469.2 L901.5,468.2 L906.3,467.1 L911.1,466.1 L915.9,465.1 L920.7,464.2 L925.4,463.2 L930.2,462.3 L935.0,461.3 L939.8,460.4 L944.6,459.5 L949.4,458.7 L954.2,457.8 L959.6,456.9 L963.7,456.1" fill="none" stroke="#000" stroke-width="3.3" stroke-dasharray="13.2 4.6"/><polygon points="982.5,453.1 951.0,450.1 960.6,457.4 954.3,467.6" fill="#000"/><polygon points="569.1,583.3 587.3,566.0 588.7,576.0 594.9,582.0" fill="#000"/>
<path d="M1043.3,470.8 L1043.3,471.9 L1043.3,473.4 L1043.3,475.1 L1043.3,477.0 L1043.3,479.1 L1043.2,481.2 L1043.2,483.4 L1043.1,485.5 L1042.9,487.6 L1042.7,489.5 L1042.4,491.4 L1042.0,493.3 L1041.5,495.4 L1041.0,497.4 L1040.5,499.4 L1039.9,501.2 L1039.4,503.0 L1039.0,504.5 L1038.6,505.9 L1038.3,506.9" fill="none" stroke="#333" stroke-width="3.2"/><polygon points="1043.1,450.9 1034.7,480.2 1043.3,472.8 1051.7,480.2" fill="#333"/><polygon points="1031.6,525.4 1030.9,500.0 1039.0,505.0 1048.0,505.6" fill="#333"/>
<g transform="translate(308.6,608.2) scale(0.685,0.685) translate(-264,-179)" fill="#3a7343" color="#3a7343"><use href="#shootg"/></g>
<g fill="#3a7343" transform="translate(0.0,0.0)"><path d="M266.2,711.3 266.2,712.6 266.2,714.3 266.2,716.4 266.2,718.7 266.2,721.2 266.2,723.7 266.2,726.2 266.2,728.6 266.2,731.0 266.1,733.5 266.1,736.1 266.1,738.6 266.1,741.2 266.1,743.7 266.0,746.1 266.0,748.4 265.9,750.5 265.8,752.4 265.7,754.3 265.6,756.2 265.5,757.9 265.4,759.7 265.3,761.4 265.2,763.2 265.1,765.1 265.1,767.0 265.0,769.0 265.1,771.0 265.2,772.8 265.4,774.5 265.4,775.8 265.4,776.9 265.7,776.9 265.7,775.8 265.9,774.5 266.1,772.8 266.4,771.0 266.6,769.1 266.7,767.1 266.8,765.2 266.9,763.3 267.0,761.6 267.2,759.8 267.3,758.1 267.5,756.3 267.6,754.5 267.8,752.6 268.0,750.6 268.1,748.5 268.2,746.2 268.3,743.8 268.4,741.3 268.5,738.7 268.6,736.1 268.7,733.5 268.8,731.0 268.9,728.6 269.0,726.2 269.0,723.7 269.1,721.2 269.2,718.7 269.2,716.4 269.3,714.4 269.3,712.6 269.4,711.3Z M266.3,715.6 265.9,716.1 265.3,716.8 264.5,717.6 263.7,718.5 262.9,719.4 262.0,720.3 261.2,721.2 260.4,721.9 259.6,722.5 258.8,723.2 257.9,723.8 257.0,724.4 256.2,725.0 255.5,725.6 255.0,726.2 254.6,726.5 254.7,726.7 255.2,726.5 256.0,726.3 256.8,725.9 257.7,725.4 258.6,724.8 259.5,724.2 260.4,723.6 261.3,723.0 262.2,722.2 263.1,721.4 264.0,720.5 264.9,719.7 265.8,718.8 266.6,718.0 267.2,717.4 267.7,716.9Z M266.2,721.9 265.7,722.7 265.1,723.8 264.4,725.1 263.6,726.5 262.7,728.0 261.9,729.4 261.0,730.8 260.2,731.9 259.5,732.8 258.7,733.7 257.9,734.4 257.1,735.2 256.3,735.9 255.5,736.6 254.8,737.4 254.2,738.1 253.6,738.9 253.1,739.8 252.7,740.6 252.3,741.4 252.1,742.2 252.0,742.9 251.8,743.5 251.6,743.9 251.8,744.0 252.0,743.6 252.3,743.1 252.7,742.5 253.2,741.9 253.7,741.1 254.1,740.3 254.6,739.6 255.1,738.9 255.7,738.2 256.4,737.6 257.2,736.9 258.0,736.2 258.8,735.5 259.7,734.7 260.6,733.8 261.4,732.8 262.3,731.6 263.2,730.3 264.1,728.9 265.1,727.4 265.9,726.0 266.7,724.8 267.4,723.7 267.9,722.9Z M265.9,731.8 265.6,732.5 265.1,733.5 264.5,734.6 263.8,735.8 263.1,737.0 262.4,738.3 261.7,739.5 261.0,740.6 260.3,741.6 259.5,742.7 258.6,743.8 257.7,744.9 256.9,745.9 256.2,746.8 255.7,747.7 255.3,748.3 255.5,748.5 256.0,748.0 256.9,747.4 257.7,746.6 258.6,745.6 259.5,744.6 260.5,743.5 261.4,742.4 262.2,741.4 262.9,740.3 263.7,739.1 264.5,737.9 265.3,736.6 266.0,735.4 266.7,734.4 267.2,733.5 267.6,732.8Z M265.7,743.0 265.3,743.7 264.9,744.7 264.4,745.8 263.8,747.0 263.2,748.3 262.6,749.5 262.0,750.7 261.4,751.7 260.9,752.7 260.3,753.7 259.6,754.6 259.0,755.5 258.4,756.3 257.8,757.1 257.3,757.8 256.7,758.4 256.2,758.9 255.7,759.2 255.2,759.5 254.8,759.9 254.4,760.2 254.0,760.4 253.6,760.6 253.4,760.7 253.5,760.9 253.7,760.8 254.1,760.7 254.6,760.6 255.1,760.6 255.7,760.5 256.3,760.1 256.9,759.7 257.5,759.2 258.1,758.6 258.8,757.9 259.4,757.1 260.1,756.3 260.8,755.4 261.4,754.4 262.1,753.5 262.7,752.5 263.4,751.5 264.0,750.3 264.7,749.0 265.4,747.8 266.0,746.6 266.6,745.5 267.0,744.6 267.4,743.9Z M265.3,754.2 265.0,754.9 264.5,755.7 264.0,756.7 263.4,757.9 262.8,759.1 262.1,760.4 261.5,761.7 261.0,763.0 260.4,764.4 259.9,765.9 259.3,767.6 258.8,769.2 258.3,770.8 257.8,772.2 257.7,773.5 257.5,774.4 257.7,774.4 258.1,773.6 258.8,772.5 259.3,771.1 259.9,769.6 260.4,767.9 261.0,766.4 261.6,764.8 262.2,763.5 262.8,762.3 263.4,761.0 264.1,759.8 264.7,758.6 265.3,757.5 265.9,756.5 266.4,755.6 266.7,755.0Z M267.4,716.7 267.8,717.4 268.3,718.3 268.9,719.4 269.6,720.6 270.4,721.9 271.1,723.2 271.9,724.3 272.6,725.4 273.3,726.2 274.1,727.1 274.8,727.8 275.6,728.5 276.4,729.2 277.1,729.8 277.8,730.4 278.5,731.0 279.2,731.7 279.9,732.3 280.7,732.9 281.4,733.5 282.1,733.9 282.8,734.3 283.4,734.6 283.8,734.9 283.9,734.7 283.6,734.4 283.1,733.9 282.7,733.3 282.1,732.6 281.4,732.0 280.7,731.4 280.0,730.8 279.3,730.1 278.7,729.5 278.0,728.9 277.2,728.2 276.5,727.5 275.8,726.8 275.1,726.1 274.5,725.3 273.8,724.4 273.2,723.5 272.5,722.3 271.8,721.1 271.2,719.8 270.5,718.6 270.0,717.4 269.5,716.5 269.1,715.8Z M267.4,724.1 267.8,724.9 268.3,725.9 268.9,727.2 269.6,728.7 270.3,730.1 271.1,731.6 271.9,732.9 272.7,734.0 273.5,734.9 274.4,735.7 275.4,736.5 276.3,737.1 277.2,737.7 278.1,738.1 278.8,738.3 279.3,738.6 279.5,738.4 279.0,738.0 278.5,737.4 277.8,736.8 276.9,736.2 276.1,735.5 275.2,734.8 274.5,734.0 273.8,733.2 273.1,732.1 272.4,730.8 271.8,729.4 271.1,728.0 270.5,726.5 270.0,725.2 269.5,724.1 269.1,723.3Z M267.1,735.2 267.5,736.0 267.9,737.0 268.5,738.3 269.1,739.7 269.8,741.2 270.5,742.6 271.2,743.9 271.8,745.1 272.6,746.1 273.3,747.1 274.1,748.0 274.9,748.8 275.7,749.5 276.5,750.2 277.2,750.8 277.8,751.3 278.5,751.8 279.1,752.1 279.7,752.2 280.3,752.2 280.8,752.2 281.2,752.2 281.6,752.2 281.9,752.2 281.9,752.0 281.6,751.9 281.3,751.9 280.9,751.7 280.4,751.6 280.0,751.3 279.5,751.1 279.0,750.8 278.5,750.4 277.9,749.9 277.3,749.3 276.6,748.6 275.8,747.9 275.1,747.1 274.4,746.2 273.7,745.3 273.1,744.3 272.5,743.2 271.9,741.9 271.3,740.5 270.7,739.0 270.1,737.6 269.6,736.3 269.2,735.2 268.9,734.4Z M266.4,747.6 266.8,748.4 267.4,749.4 268.1,750.6 268.8,751.9 269.6,753.3 270.3,754.8 271.1,756.1 271.8,757.4 272.5,758.7 273.2,760.0 273.9,761.3 274.6,762.6 275.2,763.9 275.8,765.1 276.4,766.2 276.9,767.2 277.3,768.1 277.7,768.9 278.0,769.6 278.4,770.2 278.7,770.7 279.0,771.2 279.2,771.6 279.3,772.0 279.5,771.9 279.4,771.5 279.3,771.1 279.2,770.6 279.1,769.9 279.0,769.2 278.7,768.5 278.3,767.6 277.9,766.7 277.5,765.7 277.0,764.6 276.4,763.3 275.7,762.0 275.1,760.7 274.4,759.3 273.8,758.0 273.2,756.7 272.5,755.4 271.8,754.0 271.1,752.5 270.3,751.1 269.7,749.7 269.0,748.5 268.5,747.5 268.1,746.7Z M265.8,761.1 266.0,761.6 266.3,762.4 266.6,763.3 267.0,764.3 267.4,765.3 267.7,766.4 268.1,767.4 268.4,768.4 268.7,769.4 269.0,770.4 269.2,771.5 269.5,772.5 269.7,773.5 270.0,774.4 270.4,775.1 270.6,775.7 270.9,775.6 270.8,775.0 270.9,774.2 270.8,773.3 270.6,772.3 270.4,771.2 270.1,770.1 269.9,769.0 269.6,768.0 269.4,767.0 269.0,766.0 268.7,764.9 268.4,763.8 268.0,762.8 267.7,761.9 267.5,761.1 267.3,760.5Z M260.1,733.1 259.9,732.9 259.6,732.7 259.3,732.3 259.0,731.9 258.6,731.5 258.2,731.2 257.7,730.9 257.3,730.6 256.8,730.6 256.3,730.6 255.8,730.7 255.4,730.8 255.0,731.0 254.6,731.1 254.4,731.4 254.1,731.5 254.2,731.7 254.4,731.6 254.8,731.7 255.2,731.7 255.6,731.6 256.0,731.5 256.4,731.4 256.7,731.5 257.0,731.5 257.2,731.7 257.5,731.9 257.8,732.3 258.1,732.7 258.4,733.1 258.7,733.4 258.9,733.8 259.1,734.0Z M275.9,736.7 276.3,736.5 276.8,736.3 277.3,736.1 277.7,735.9 278.2,735.7 278.6,735.5 279.1,735.3 279.4,734.9 279.4,734.7 278.8,734.6 278.4,734.7 277.9,734.8 277.4,735.0 276.9,735.1 276.4,735.2 276.0,735.3 275.5,735.4Z M259.8,755.2 259.3,755.1 258.9,755.0 258.4,754.9 257.9,754.8 257.4,754.6 256.9,754.5 256.5,754.4 255.9,754.5 255.9,754.7 256.2,755.1 256.7,755.3 257.1,755.5 257.6,755.7 258.0,755.9 258.5,756.1 258.9,756.3 259.4,756.5Z M275.1,762.6 275.6,762.5 276.1,762.3 276.6,762.1 277.1,761.9 277.6,761.7 278.0,761.5 278.5,761.3 278.9,760.9 278.9,760.7 278.3,760.6 277.8,760.7 277.3,760.8 276.8,761.0 276.3,761.1 275.8,761.2 275.3,761.3 274.8,761.4Z"/></g>
<g transform="translate(390.3,608.4) scale(-0.685,0.685) translate(-264,-179)" fill="#3a7343" color="#3a7343"><use href="#shootg"/></g>
<g fill="#3a7343" transform="translate(0.0,0.0)"><path d="M428.3,711.5 428.3,713.4 428.4,715.9 428.5,718.9 428.6,722.3 428.7,725.8 428.8,729.3 428.9,732.7 429.1,735.8 429.2,738.6 429.4,741.4 429.6,744.1 429.8,746.8 430.0,749.4 430.3,752.1 430.5,754.7 430.7,757.4 430.9,760.1 431.1,762.9 431.3,765.7 431.5,768.5 431.7,771.2 431.9,773.9 432.1,776.5 432.3,779.0 432.5,781.5 432.8,784.1 433.0,786.7 433.4,789.1 433.8,791.4 434.2,793.4 434.5,795.2 434.6,796.5 435.0,796.5 434.8,795.1 434.8,793.4 434.7,791.3 434.8,789.0 434.6,786.5 434.4,783.9 434.2,781.4 434.1,778.9 433.9,776.4 433.8,773.8 433.6,771.1 433.5,768.3 433.4,765.6 433.2,762.8 433.1,760.0 433.0,757.3 432.8,754.6 432.7,751.9 432.5,749.3 432.4,746.6 432.2,744.0 432.1,741.3 432.0,738.5 431.9,735.7 431.8,732.6 431.7,729.3 431.7,725.7 431.7,722.2 431.6,718.9 431.6,715.9 431.6,713.3 431.6,711.4Z M428.2,719.0 427.8,719.8 427.2,720.8 426.6,722.0 425.9,723.3 425.1,724.6 424.3,726.0 423.4,727.3 422.5,728.4 421.6,729.5 420.5,730.5 419.3,731.6 418.1,732.6 416.9,733.6 415.6,734.6 414.4,735.6 413.3,736.6 412.2,737.5 411.0,738.5 409.9,739.5 408.7,740.5 407.7,741.5 406.9,742.4 406.2,743.2 405.6,743.7 405.7,743.9 406.3,743.4 407.3,742.9 408.4,742.3 409.5,741.4 410.6,740.5 411.8,739.5 413.0,738.6 414.2,737.6 415.3,736.7 416.5,735.8 417.8,734.8 419.1,733.8 420.4,732.8 421.6,731.8 422.8,730.7 423.8,729.6 424.9,728.4 425.8,727.0 426.7,725.6 427.6,724.3 428.4,723.0 429.0,721.8 429.6,720.8 430.0,720.1Z M428.2,724.5 427.8,725.8 427.2,727.5 426.6,729.6 425.8,731.8 425.0,734.2 424.1,736.5 423.2,738.7 422.3,740.7 421.3,742.5 420.2,744.2 419.0,746.0 417.8,747.7 416.5,749.4 415.3,751.0 414.1,752.6 413.1,754.2 412.1,755.6 411.1,757.0 410.2,758.3 409.3,759.6 408.4,760.9 407.7,762.3 407.0,763.7 406.3,765.2 405.8,766.9 405.4,768.8 405.1,770.8 404.9,772.8 404.9,774.7 404.9,776.4 404.8,777.9 404.7,778.9 405.0,779.0 405.1,777.9 405.3,776.5 405.7,774.8 406.1,772.9 406.4,771.0 406.7,769.1 407.1,767.3 407.6,765.7 408.2,764.3 408.9,763.0 409.7,761.7 410.5,760.5 411.4,759.2 412.4,757.9 413.4,756.6 414.4,755.1 415.5,753.6 416.7,752.1 417.9,750.4 419.2,748.8 420.5,747.1 421.8,745.3 423.0,743.5 424.1,741.6 425.1,739.6 426.1,737.3 427.1,735.0 428.0,732.6 428.8,730.3 429.5,728.3 430.1,726.6 430.5,725.4Z M428.9,736.7 428.5,737.9 428.0,739.5 427.4,741.3 426.7,743.4 426.0,745.5 425.3,747.7 424.5,749.7 423.7,751.6 423.0,753.4 422.2,755.1 421.3,756.9 420.4,758.6 419.5,760.3 418.7,762.0 417.9,763.6 417.2,765.2 416.5,766.7 415.9,768.4 415.3,769.9 414.8,771.5 414.4,772.9 414.2,774.3 413.9,775.4 413.6,776.2 413.9,776.3 414.2,775.5 414.6,774.4 415.3,773.2 415.9,771.9 416.5,770.4 417.1,768.8 417.7,767.2 418.4,765.7 419.1,764.2 419.9,762.6 420.8,761.0 421.7,759.3 422.7,757.6 423.6,755.8 424.5,754.1 425.3,752.3 426.1,750.4 427.0,748.3 427.8,746.1 428.6,744.0 429.3,742.0 430.0,740.1 430.5,738.6 430.9,737.4Z M429.7,751.6 429.4,752.7 428.9,754.1 428.4,755.8 427.8,757.7 427.1,759.7 426.5,761.6 425.8,763.5 425.2,765.1 424.5,766.7 423.8,768.3 423.1,769.9 422.3,771.4 421.6,772.8 421.1,774.1 420.7,775.3 420.4,776.2 420.6,776.3 421.1,775.5 421.9,774.6 422.7,773.4 423.4,772.0 424.3,770.5 425.1,768.9 425.9,767.3 426.6,765.7 427.3,764.1 428.0,762.2 428.8,760.3 429.5,758.3 430.2,756.4 430.8,754.8 431.3,753.3 431.7,752.3Z M431.0,767.7 430.6,768.6 430.0,769.9 429.3,771.4 428.5,773.0 427.7,774.7 426.9,776.2 426.1,777.5 425.4,778.5 424.7,779.2 424.0,779.7 423.3,780.1 422.6,780.4 422.0,780.7 421.4,781.1 420.9,781.4 420.4,781.5 420.5,781.8 420.9,781.6 421.5,781.6 422.2,781.7 423.0,781.5 423.8,781.2 424.7,780.8 425.6,780.1 426.4,779.3 427.2,778.3 428.1,776.9 429.0,775.4 429.9,773.7 430.7,772.1 431.5,770.6 432.1,769.4 432.6,768.5Z M429.8,719.0 430.6,719.9 431.7,721.0 432.9,722.3 434.3,723.8 435.8,725.3 437.3,726.8 438.7,728.3 440.0,729.7 441.3,730.9 442.6,732.1 443.8,733.3 445.1,734.5 446.3,735.6 447.5,736.8 448.6,737.9 449.6,738.9 450.7,740.0 451.7,741.2 452.7,742.3 453.7,743.5 454.6,744.4 455.6,745.3 456.3,746.0 456.8,746.6 457.0,746.5 456.5,745.8 456.0,745.0 455.4,743.9 454.6,742.7 453.7,741.5 452.7,740.3 451.7,739.1 450.7,738.0 449.7,736.8 448.6,735.7 447.4,734.5 446.2,733.3 445.0,732.1 443.8,730.9 442.6,729.6 441.4,728.3 440.2,727.0 438.8,725.4 437.4,723.9 436.0,722.3 434.6,720.7 433.4,719.4 432.4,718.2 431.6,717.4Z M430.3,724.3 431.1,725.5 432.2,727.2 433.6,729.3 435.1,731.5 436.7,733.9 438.3,736.2 439.9,738.4 441.3,740.4 442.7,742.1 444.2,743.7 445.6,745.3 447.0,746.8 448.4,748.2 449.8,749.6 451.1,751.0 452.3,752.4 453.5,753.9 454.8,755.4 456.0,756.9 457.1,758.5 458.3,759.8 459.4,761.0 460.3,762.0 460.9,762.8 461.1,762.7 460.5,761.8 459.8,760.7 459.0,759.3 458.1,757.7 457.0,756.2 455.8,754.6 454.6,753.0 453.4,751.5 452.2,750.0 450.9,748.6 449.6,747.1 448.2,745.6 446.9,744.1 445.5,742.6 444.2,740.9 442.8,739.2 441.5,737.3 440.0,735.1 438.4,732.7 436.9,730.3 435.5,728.1 434.2,726.0 433.1,724.2 432.3,722.9Z M430.4,733.5 431.1,734.9 432.1,736.8 433.3,739.1 434.7,741.6 436.1,744.2 437.5,746.7 438.8,749.0 440.1,751.0 441.2,752.7 442.3,754.4 443.5,756.0 444.6,757.4 445.6,758.7 446.6,759.9 447.6,760.9 448.4,761.8 449.2,762.4 450.0,762.8 450.7,762.9 451.3,763.0 451.8,762.9 452.3,762.9 452.6,762.8 452.9,762.9 452.9,762.6 452.6,762.6 452.2,762.6 451.8,762.6 451.4,762.5 450.9,762.4 450.4,762.1 449.9,761.6 449.2,761.0 448.5,760.1 447.6,759.1 446.6,757.9 445.6,756.6 444.6,755.1 443.5,753.6 442.5,751.9 441.4,750.2 440.2,748.2 439.0,745.9 437.7,743.3 436.3,740.7 435.0,738.2 433.9,735.9 432.9,734.0 432.2,732.6Z M431.1,749.6 431.6,750.9 432.2,752.6 433.0,754.6 433.9,756.8 434.8,759.2 435.7,761.5 436.5,763.7 437.3,765.7 437.9,767.6 438.6,769.4 439.3,771.2 439.9,773.0 440.5,774.7 441.1,776.3 441.6,777.8 442.0,779.1 442.4,780.3 442.7,781.4 443.0,782.4 443.3,783.2 443.6,784.0 443.9,784.7 444.0,785.2 444.1,785.7 444.4,785.7 444.3,785.2 444.2,784.6 444.1,783.9 444.1,783.1 444.0,782.1 443.8,781.1 443.6,780.0 443.2,778.8 442.8,777.4 442.3,775.9 441.8,774.3 441.3,772.5 440.7,770.8 440.1,768.9 439.4,767.0 438.8,765.2 438.1,763.1 437.3,760.9 436.5,758.5 435.7,756.2 434.9,753.9 434.1,751.9 433.5,750.2 433.1,748.9Z M432.4,776.7 432.8,777.3 433.3,778.3 433.9,779.5 434.6,780.7 435.3,782.0 436.1,783.2 436.9,784.2 437.7,784.9 438.6,785.2 439.5,785.2 440.4,785.0 441.3,784.7 442.0,784.3 442.6,783.8 443.1,783.3 443.5,783.1 443.4,782.9 442.9,783.0 442.3,783.1 441.5,783.3 440.8,783.6 440.1,783.9 439.4,784.0 438.8,784.0 438.4,783.8 437.9,783.3 437.2,782.4 436.6,781.3 435.9,780.0 435.3,778.7 434.8,777.5 434.3,776.5 433.9,775.8Z M413.6,754.0 412.8,754.2 411.9,754.4 411.1,754.6 410.3,754.8 409.4,755.0 408.6,755.2 407.8,755.4 407.0,755.9 407.0,756.1 407.9,756.2 408.8,756.1 409.6,756.0 410.5,755.8 411.3,755.7 412.2,755.6 413.0,755.5 413.9,755.3Z M417.6,764.8 417.0,765.0 416.3,765.2 415.6,765.4 415.0,765.6 414.3,765.8 413.6,766.0 413.0,766.2 412.4,766.7 412.4,766.9 413.2,767.0 413.8,766.9 414.5,766.8 415.2,766.6 415.9,766.5 416.6,766.4 417.3,766.2 418.0,766.1Z M450.7,738.9 451.0,738.6 451.3,738.2 451.6,737.8 451.9,737.5 452.2,737.1 452.5,736.7 452.8,736.4 452.9,735.8 452.8,735.7 452.3,735.8 451.9,736.1 451.5,736.4 451.2,736.7 450.8,737.0 450.4,737.3 450.0,737.6 449.7,738.0Z M452.9,752.6 453.6,752.5 454.3,752.4 455.0,752.3 455.6,752.2 456.3,752.1 457.0,752.0 457.6,751.9 458.3,751.5 458.3,751.3 457.6,751.1 456.9,751.1 456.2,751.1 455.5,751.1 454.8,751.2 454.2,751.2 453.5,751.2 452.8,751.2Z M433.7,790.4 434.4,790.7 435.1,791.0 435.8,791.3 436.4,791.6 437.1,791.8 437.8,792.1 438.5,792.4 439.3,792.5 439.4,792.4 438.9,791.7 438.2,791.4 437.6,791.0 436.9,790.6 436.3,790.2 435.6,789.9 435.0,789.5 434.3,789.1Z M433.4,783.9 432.9,784.6 432.5,785.3 432.0,786.0 431.5,786.7 431.1,787.4 430.6,788.1 430.1,788.8 429.9,789.7 430.0,789.8 430.8,789.3 431.3,788.6 431.8,788.0 432.4,787.3 432.9,786.7 433.5,786.0 434.0,785.4 434.5,784.8Z"/></g>
<g transform="translate(568.0,608.4) scale(0.656,0.656) translate(-264,-179)" fill="#3a7343" color="#3a7343"><use href="#shootc"/></g>
<g fill="#3a7343" transform="translate(0.0,0.0)"><path d="M528.0,700.1 527.7,701.0 527.4,702.3 527.1,703.7 526.7,705.2 526.3,706.7 525.7,708.2 525.2,709.4 524.5,710.4 523.7,711.1 522.7,711.9 521.6,712.5 520.3,713.2 519.0,713.8 517.5,714.4 516.0,714.9 514.5,715.6 512.9,716.2 511.2,716.8 509.5,717.4 507.7,718.0 505.9,718.5 504.2,719.0 502.6,719.5 501.2,719.9 499.9,720.2 498.7,720.5 497.5,720.8 496.5,721.2 495.5,721.5 494.7,721.8 493.9,721.9 493.3,722.0 493.4,722.5 494.0,722.4 494.7,722.3 495.6,722.4 496.7,722.5 497.8,722.6 499.0,722.5 500.3,722.2 501.7,721.9 503.2,721.6 504.8,721.2 506.6,720.8 508.4,720.3 510.2,719.8 512.0,719.3 513.8,718.7 515.4,718.2 517.0,717.6 518.5,717.1 520.0,716.6 521.6,716.0 523.0,715.3 524.4,714.6 525.8,713.7 527.0,712.6 528.1,711.2 528.9,709.6 529.6,707.9 530.2,706.2 530.7,704.6 531.1,703.2 531.4,702.0 531.6,701.2Z M492.7,721.6 491.9,722.5 490.7,723.8 489.3,725.2 487.8,726.8 486.3,728.4 484.7,730.0 483.3,731.4 482.1,732.6 481.1,733.5 480.1,734.3 479.1,735.0 478.2,735.7 477.4,736.3 476.8,736.9 476.2,737.5 475.7,737.8 475.9,738.0 476.4,737.7 477.1,737.4 478.0,737.1 478.8,736.6 479.8,736.0 480.8,735.3 481.9,734.5 483.0,733.5 484.3,732.4 485.7,731.0 487.3,729.5 488.9,727.9 490.5,726.3 491.9,724.9 493.1,723.7 494.0,722.9Z M526.0,709.6 525.5,710.8 524.8,712.4 524.1,714.3 523.2,716.4 522.3,718.6 521.4,720.7 520.5,722.8 519.6,724.5 518.6,726.0 517.6,727.5 516.6,729.0 515.5,730.4 514.4,731.7 513.4,733.0 512.5,734.2 511.7,735.4 511.0,736.5 510.5,737.6 510.0,738.6 509.7,739.6 509.5,740.5 509.3,741.3 509.1,742.0 508.9,742.4 509.1,742.5 509.4,742.1 509.6,741.4 510.1,740.8 510.5,740.0 511.1,739.1 511.6,738.2 512.2,737.2 512.8,736.1 513.6,735.0 514.5,733.9 515.6,732.7 516.7,731.4 517.8,730.0 519.0,728.5 520.1,727.0 521.1,725.4 522.2,723.6 523.2,721.6 524.2,719.5 525.2,717.3 526.2,715.2 527.0,713.3 527.7,711.8 528.2,710.6Z M523.2,713.9 523.0,715.2 522.7,716.9 522.4,718.8 522.1,721.1 521.7,723.4 521.4,725.8 521.0,728.1 520.7,730.2 520.5,732.3 520.3,734.4 520.1,736.5 519.9,738.6 519.7,740.7 519.5,742.7 519.3,744.6 519.1,746.4 518.9,748.2 518.6,750.0 518.3,751.8 518.0,753.5 517.9,755.1 517.8,756.6 517.7,757.8 517.5,758.7 517.8,758.7 518.0,757.8 518.3,756.7 518.8,755.3 519.2,753.7 519.5,752.0 519.9,750.3 520.2,748.4 520.5,746.6 520.8,744.8 521.1,742.9 521.3,740.9 521.6,738.8 521.8,736.7 522.1,734.6 522.4,732.5 522.7,730.5 523.0,728.4 523.4,726.1 523.8,723.7 524.3,721.4 524.7,719.2 525.1,717.3 525.4,715.6 525.6,714.4Z M506.0,719.0 505.3,720.1 504.5,721.4 503.5,723.1 502.4,725.0 501.2,726.9 500.1,728.9 499.0,730.8 498.0,732.6 497.1,734.3 496.2,736.1 495.2,737.8 494.3,739.5 493.5,741.3 492.7,743.0 492.0,744.7 491.4,746.3 490.9,748.1 490.5,749.8 490.3,751.6 490.1,753.4 490.0,755.0 490.1,756.5 490.1,757.7 490.0,758.7 490.3,758.7 490.4,757.8 490.6,756.6 491.0,755.1 491.2,753.5 491.5,751.8 491.8,750.1 492.2,748.4 492.7,746.8 493.3,745.2 494.0,743.6 494.8,741.9 495.7,740.2 496.6,738.5 497.6,736.9 498.5,735.2 499.5,733.5 500.5,731.7 501.7,729.8 502.9,727.9 504.1,726.0 505.2,724.1 506.2,722.5 507.1,721.1 507.8,720.1Z M514.3,716.6 513.2,717.6 511.8,718.8 510.2,720.4 508.4,722.1 506.5,723.8 504.6,725.5 502.7,727.0 501.0,728.3 499.3,729.4 497.6,730.5 495.9,731.4 494.2,732.3 492.5,733.2 490.9,733.9 489.3,734.6 487.8,735.1 486.3,735.6 484.7,735.9 483.2,736.1 481.7,736.3 480.3,736.5 479.0,736.7 478.0,736.9 477.2,737.0 477.2,737.2 478.0,737.2 479.1,737.2 480.3,737.3 481.8,737.4 483.3,737.3 484.9,737.1 486.6,736.8 488.2,736.4 489.8,735.8 491.4,735.2 493.1,734.5 494.9,733.7 496.6,732.8 498.4,731.8 500.2,730.8 501.9,729.7 503.8,728.4 505.7,726.9 507.7,725.2 509.7,723.5 511.5,721.8 513.2,720.3 514.6,719.1 515.7,718.2Z M528.7,707.9 529.1,708.8 529.7,710.1 530.3,711.6 531.1,713.2 531.9,715.0 532.7,716.8 533.5,718.4 534.4,720.0 535.2,721.5 536.1,722.9 537.1,724.4 538.0,725.8 539.0,727.2 539.9,728.5 540.7,729.6 541.4,730.7 542.0,731.7 542.5,732.5 543.1,733.3 543.6,733.9 544.1,734.5 544.5,735.0 544.8,735.4 545.1,735.8 545.3,735.7 545.1,735.3 544.8,734.8 544.6,734.2 544.3,733.5 544.1,732.7 543.6,731.9 543.1,731.0 542.5,730.0 541.8,728.9 541.1,727.7 540.2,726.3 539.4,724.9 538.5,723.5 537.6,722.0 536.8,720.6 536.0,719.1 535.3,717.6 534.5,715.9 533.8,714.1 533.1,712.4 532.4,710.7 531.8,709.2 531.3,707.9 530.9,706.9Z M526.0,716.9 526.2,718.2 526.3,719.8 526.6,721.7 526.8,723.8 527.0,726.1 527.1,728.5 527.2,730.8 527.1,733.0 526.9,735.3 526.5,737.9 526.1,740.6 525.6,743.4 525.0,746.0 524.6,748.4 524.5,750.4 524.3,751.9 524.5,752.0 524.9,750.5 525.7,748.6 526.2,746.3 526.8,743.6 527.4,740.9 528.0,738.1 528.4,735.5 528.7,733.1 528.9,730.8 528.9,728.4 528.8,726.0 528.7,723.7 528.5,721.5 528.4,719.6 528.2,718.0 528.1,716.8Z M500.8,728.9 500.6,730.4 500.5,732.0 500.4,733.5 500.3,735.0 500.1,736.5 500.0,738.1 499.9,739.6 500.0,741.1 500.2,741.2 500.7,739.7 500.9,738.2 501.1,736.6 501.3,735.1 501.5,733.6 501.7,732.1 501.9,730.6 502.2,729.1Z M511.6,736.0 512.0,737.0 512.3,738.0 512.7,739.0 513.1,740.0 513.5,741.0 513.9,742.0 514.2,743.0 514.9,743.9 515.0,743.8 515.0,742.7 514.7,741.7 514.4,740.7 514.1,739.6 513.8,738.6 513.5,737.6 513.2,736.6 512.9,735.5Z"/></g>
<g transform="translate(534.6,542.0) scale(0.945,0.945) translate(-264,-179)" fill="#9e892f" color="#9e892f"><use href="#shoot"/></g>
<g fill="#9e892f" transform="translate(-531.2,0.8)"><path d="M1006.0,695.1 1005.4,695.8 1004.6,696.8 1003.6,698.0 1002.5,699.2 1001.4,700.6 1000.3,701.9 999.3,703.2 998.4,704.3 997.6,705.4 996.9,706.3 996.3,707.3 995.6,708.2 995.1,709.0 994.5,709.9 994.0,710.8 993.5,711.6 993.1,712.5 992.6,713.4 992.2,714.3 991.8,715.2 991.8,716.1 991.7,717.0 991.7,717.7 991.4,718.1 991.9,718.3 992.1,717.9 992.6,717.4 993.2,716.8 993.9,716.2 994.3,715.4 994.8,714.5 995.3,713.7 995.8,712.9 996.3,712.2 996.8,711.4 997.4,710.6 998.0,709.8 998.6,709.0 999.3,708.2 1000.0,707.3 1000.8,706.4 1001.8,705.3 1002.8,704.2 1004.0,702.9 1005.2,701.7 1006.4,700.5 1007.5,699.4 1008.4,698.5 1009.0,697.8Z M1006.2,696.3 1005.8,697.2 1005.3,698.4 1004.6,699.8 1003.8,701.4 1003.0,703.2 1002.3,705.0 1001.6,706.8 1000.9,708.6 1000.4,710.3 1000.0,712.1 999.5,713.9 999.1,715.8 998.8,717.6 998.4,719.4 998.2,721.1 997.9,722.8 997.6,724.4 997.4,726.0 997.2,727.5 997.1,729.0 996.9,730.5 996.8,732.0 996.8,733.5 996.8,735.1 996.9,736.7 997.1,738.2 997.3,739.8 997.5,741.4 997.8,743.0 998.1,744.5 998.5,746.0 998.9,747.4 999.3,748.8 999.9,750.2 1000.4,751.5 1001.0,752.7 1001.6,753.9 1002.1,755.1 1002.6,756.2 1003.0,757.3 1003.4,758.5 1003.7,759.8 1004.1,761.0 1004.4,762.2 1004.7,763.4 1004.9,764.6 1005.0,765.7 1005.0,766.7 1005.0,767.7 1004.9,768.8 1004.8,769.7 1004.6,770.7 1004.3,771.6 1004.1,772.5 1003.7,773.3 1003.4,773.9 1003.0,774.5 1002.6,775.0 1002.1,775.5 1001.6,776.0 1001.0,776.5 1000.4,777.0 999.8,777.5 999.2,778.1 998.7,778.6 998.2,779.1 997.6,779.6 997.1,780.1 996.6,780.5 996.2,780.8 995.8,781.1 995.5,781.3 995.8,781.8 996.1,781.6 996.5,781.3 997.0,781.0 997.5,780.6 998.1,780.2 998.7,779.9 999.4,779.5 1000.0,779.2 1000.6,778.9 1001.3,778.6 1002.1,778.3 1002.8,777.9 1003.7,777.5 1004.4,776.9 1005.1,776.2 1005.7,775.4 1006.2,774.5 1006.6,773.5 1007.0,772.5 1007.4,771.4 1007.6,770.3 1007.8,769.1 1008.0,767.9 1008.0,766.7 1008.0,765.5 1007.9,764.2 1007.7,762.9 1007.4,761.6 1007.1,760.3 1006.8,758.9 1006.5,757.6 1006.1,756.3 1005.7,755.0 1005.2,753.7 1004.7,752.5 1004.1,751.3 1003.6,750.1 1003.1,748.9 1002.7,747.7 1002.3,746.5 1002.0,745.1 1001.7,743.7 1001.5,742.3 1001.2,740.8 1001.1,739.4 1000.9,737.9 1000.8,736.4 1000.8,735.0 1000.8,733.6 1000.9,732.2 1001.0,730.9 1001.1,729.5 1001.3,728.0 1001.6,726.6 1001.8,725.1 1002.1,723.5 1002.4,721.9 1002.8,720.2 1003.1,718.5 1003.5,716.7 1003.9,715.0 1004.4,713.3 1004.9,711.6 1005.4,710.1 1006.0,708.5 1006.7,706.9 1007.5,705.2 1008.3,703.6 1009.0,702.0 1009.7,700.6 1010.4,699.4 1010.8,698.5Z M997.8,738.8 997.7,739.4 997.5,740.3 997.3,741.3 997.1,742.4 996.9,743.6 996.8,744.7 996.6,745.8 996.5,746.8 996.4,747.7 996.3,748.7 996.2,749.6 996.2,750.5 996.2,751.4 996.3,752.1 996.5,752.8 996.5,753.3 996.8,753.3 996.9,752.8 997.2,752.2 997.4,751.5 997.5,750.6 997.6,749.8 997.7,748.8 997.8,747.9 998.0,747.0 998.2,746.1 998.4,745.0 998.7,743.9 999.0,742.8 999.2,741.7 999.5,740.7 999.7,739.8 999.9,739.2Z M1005.0,761.1 1005.2,761.5 1005.4,762.1 1005.7,762.8 1005.9,763.6 1006.2,764.4 1006.4,765.3 1006.6,766.1 1006.8,766.8 1006.9,767.6 1007.0,768.5 1007.0,769.4 1007.0,770.3 1007.0,771.1 1007.0,771.9 1007.3,772.6 1007.4,773.1 1007.7,773.1 1007.8,772.6 1008.1,771.9 1008.2,771.2 1008.2,770.3 1008.3,769.4 1008.3,768.4 1008.3,767.5 1008.3,766.6 1008.1,765.8 1008.0,764.9 1007.8,764.0 1007.5,763.1 1007.3,762.3 1007.1,761.6 1007.0,761.0 1006.8,760.5Z M999.4,777.8 998.9,778.0 998.4,778.1 997.9,778.3 997.5,778.5 997.0,778.6 996.5,778.8 996.0,778.9 995.6,779.5 995.7,779.7 996.3,780.0 996.8,779.9 997.3,779.8 997.8,779.8 998.3,779.7 998.8,779.6 999.3,779.5 999.8,779.4Z M1008.9,698.9 1008.7,700.0 1008.3,701.5 1007.9,703.3 1007.4,705.3 1006.9,707.3 1006.5,709.4 1006.2,711.4 1006.0,713.2 1006.1,714.7 1006.2,716.2 1006.4,717.5 1006.7,718.8 1007.1,720.0 1007.4,721.2 1007.8,722.3 1008.1,723.5 1008.5,724.8 1008.9,726.1 1009.3,727.5 1009.8,728.8 1010.2,730.0 1010.6,731.3 1011.0,732.4 1011.3,733.4 1011.6,734.3 1011.8,735.2 1012.3,736.1 1012.7,736.8 1013.1,737.5 1013.4,738.1 1013.5,738.6 1013.6,739.1 1014.1,739.0 1014.0,738.5 1013.9,738.0 1014.0,737.3 1014.0,736.5 1014.1,735.6 1014.1,734.7 1013.9,733.7 1013.6,732.7 1013.4,731.7 1013.0,730.5 1012.7,729.3 1012.3,728.0 1011.9,726.7 1011.5,725.3 1011.2,724.1 1010.9,722.8 1010.6,721.6 1010.3,720.4 1010.0,719.2 1009.7,718.1 1009.5,717.0 1009.4,715.8 1009.3,714.7 1009.4,713.4 1009.6,711.9 1010.0,710.1 1010.4,708.2 1011.0,706.2 1011.6,704.3 1012.1,702.5 1012.5,701.0 1012.8,699.9Z M1010.8,698.2 1011.1,699.1 1011.6,700.4 1012.1,702.0 1012.7,703.7 1013.3,705.5 1014.0,707.3 1014.8,709.0 1015.5,710.4 1016.3,711.6 1017.2,712.6 1018.0,713.5 1018.9,714.3 1019.7,714.9 1020.5,715.5 1021.2,716.1 1022.0,716.8 1022.7,717.5 1023.6,718.2 1024.4,718.8 1025.1,719.4 1025.8,720.0 1026.4,720.6 1027.0,721.3 1027.7,722.2 1028.3,723.3 1028.9,724.5 1029.6,725.9 1030.2,727.4 1030.8,729.0 1031.4,730.6 1032.0,732.2 1032.6,733.7 1033.2,735.1 1033.7,736.5 1034.2,738.0 1034.7,739.4 1035.2,740.8 1035.7,742.3 1036.2,743.8 1036.8,745.4 1037.3,747.0 1037.8,748.8 1038.4,750.5 1039.0,752.3 1039.5,754.0 1040.0,755.8 1040.5,757.5 1040.9,759.1 1041.3,760.7 1041.6,762.2 1041.9,763.7 1042.2,765.1 1042.4,766.6 1042.6,768.0 1042.8,769.4 1043.1,770.8 1043.3,772.3 1043.6,773.8 1043.9,775.4 1044.3,776.9 1044.5,778.4 1044.8,779.7 1044.8,780.8 1044.9,781.6 1045.4,781.6 1045.3,780.7 1045.2,779.6 1045.2,778.3 1045.3,776.8 1045.3,775.3 1045.4,773.7 1045.4,772.1 1045.3,770.6 1045.1,769.1 1044.9,767.7 1044.7,766.2 1044.5,764.7 1044.3,763.2 1044.1,761.7 1043.8,760.1 1043.4,758.5 1043.1,756.8 1042.6,755.1 1042.2,753.3 1041.7,751.5 1041.2,749.7 1040.7,747.9 1040.2,746.2 1039.7,744.5 1039.2,742.9 1038.8,741.4 1038.3,739.9 1037.8,738.4 1037.4,736.9 1036.9,735.4 1036.4,734.0 1035.9,732.5 1035.3,730.9 1034.8,729.3 1034.2,727.7 1033.6,726.1 1033.0,724.5 1032.4,722.9 1031.7,721.5 1031.0,720.2 1030.2,719.0 1029.4,718.0 1028.5,717.1 1027.7,716.3 1026.9,715.7 1026.2,715.0 1025.5,714.4 1024.8,713.7 1024.0,713.0 1023.2,712.3 1022.4,711.6 1021.7,711.0 1021.0,710.4 1020.4,709.8 1019.9,709.1 1019.3,708.2 1018.8,707.1 1018.2,705.6 1017.6,704.0 1017.1,702.3 1016.5,700.6 1016.1,699.0 1015.7,697.6 1015.3,696.7Z M1017.6,712.5 1017.7,713.7 1018.0,715.2 1018.3,717.0 1018.6,718.9 1018.9,721.1 1019.2,723.2 1019.5,725.3 1019.8,727.3 1020.1,729.3 1020.3,731.3 1020.6,733.3 1020.8,735.4 1021.0,737.4 1021.3,739.4 1021.5,741.3 1021.7,743.1 1021.9,744.8 1022.2,746.5 1022.4,748.2 1022.6,749.7 1022.8,751.2 1023.0,752.6 1023.2,753.9 1023.3,755.0 1023.6,755.9 1023.9,756.8 1024.2,757.5 1024.4,758.1 1024.6,758.6 1024.6,759.1 1024.7,759.5 1024.7,759.8 1025.2,759.8 1025.1,759.4 1025.1,759.0 1025.0,758.6 1025.1,758.0 1025.1,757.4 1025.2,756.6 1025.3,755.7 1025.4,754.7 1025.3,753.6 1025.1,752.3 1025.0,750.9 1024.9,749.5 1024.7,747.9 1024.5,746.2 1024.4,744.6 1024.2,742.8 1024.1,741.0 1023.9,739.1 1023.8,737.1 1023.6,735.1 1023.5,733.0 1023.3,731.0 1023.1,728.9 1023.0,726.9 1022.7,724.9 1022.5,722.8 1022.3,720.6 1022.0,718.5 1021.8,716.5 1021.6,714.7 1021.4,713.2 1021.3,712.0Z M1030.5,737.6 1030.2,738.6 1029.8,739.8 1029.3,741.4 1028.8,743.0 1028.2,744.8 1027.6,746.5 1027.1,748.1 1026.7,749.6 1026.2,750.9 1025.8,752.2 1025.4,753.5 1025.0,754.8 1024.7,755.9 1024.7,757.0 1024.8,758.0 1024.7,758.7 1025.2,758.9 1025.5,758.2 1026.2,757.5 1026.8,756.6 1027.1,755.4 1027.5,754.2 1027.9,752.9 1028.4,751.6 1028.8,750.2 1029.3,748.8 1029.8,747.2 1030.4,745.5 1031.0,743.8 1031.6,742.1 1032.1,740.6 1032.5,739.3 1032.8,738.4Z M1024.5,717.3 1025.3,717.8 1026.3,718.5 1027.4,719.2 1028.7,720.1 1030.0,721.0 1031.3,721.9 1032.5,722.9 1033.6,723.8 1034.6,724.8 1035.7,726.0 1036.7,727.2 1037.7,728.5 1038.7,729.7 1039.5,730.7 1040.5,731.5 1041.1,732.2 1041.3,732.0 1040.8,731.2 1040.4,730.1 1039.7,728.9 1038.9,727.6 1037.9,726.3 1036.9,724.9 1035.9,723.7 1034.9,722.5 1033.8,721.4 1032.6,720.3 1031.3,719.2 1030.1,718.2 1028.8,717.3 1027.7,716.4 1026.8,715.7 1026.1,715.2Z M1036.4,743.4 1036.9,744.3 1037.6,745.6 1038.4,747.2 1039.3,748.8 1040.2,750.6 1041.1,752.3 1041.9,753.8 1042.6,755.1 1043.1,756.3 1043.6,757.3 1044.1,758.4 1044.5,759.3 1044.9,760.1 1045.4,760.8 1045.8,761.3 1046.0,761.8 1046.3,761.7 1046.1,761.2 1046.0,760.5 1045.9,759.7 1045.6,758.8 1045.2,757.9 1044.8,756.8 1044.3,755.7 1043.8,754.6 1043.2,753.2 1042.4,751.6 1041.6,749.9 1040.7,748.1 1039.9,746.4 1039.2,744.8 1038.5,743.5 1038.1,742.5Z M1040.4,759.1 1040.8,759.9 1041.2,761.0 1041.8,762.3 1042.4,763.8 1043.0,765.3 1043.6,766.7 1044.1,767.9 1044.6,769.0 1045.0,769.8 1045.3,770.5 1045.6,771.1 1045.9,771.6 1046.3,771.9 1046.6,772.2 1046.9,772.5 1047.0,772.7 1047.2,772.6 1047.1,772.3 1047.0,772.0 1047.0,771.6 1046.9,771.0 1046.6,770.5 1046.4,770.0 1046.0,769.3 1045.7,768.5 1045.3,767.5 1044.8,766.2 1044.3,764.7 1043.7,763.3 1043.2,761.8 1042.7,760.4 1042.2,759.3 1041.9,758.5Z"/></g>
<g transform="translate(846.2,607.0) scale(0.685,0.685) translate(-264,-179)" fill="#3a7343" color="#3a7343"><use href="#shootg"/></g>
<g fill="#3a7343" transform="translate(537.6,-1.2)"><path d="M266.2,711.3 266.2,712.6 266.2,714.3 266.2,716.4 266.2,718.7 266.2,721.2 266.2,723.7 266.2,726.2 266.2,728.6 266.2,731.0 266.1,733.5 266.1,736.1 266.1,738.6 266.1,741.2 266.1,743.7 266.0,746.1 266.0,748.4 265.9,750.5 265.8,752.4 265.7,754.3 265.6,756.2 265.5,757.9 265.4,759.7 265.3,761.4 265.2,763.2 265.1,765.1 265.1,767.0 265.0,769.0 265.1,771.0 265.2,772.8 265.4,774.5 265.4,775.8 265.4,776.9 265.7,776.9 265.7,775.8 265.9,774.5 266.1,772.8 266.4,771.0 266.6,769.1 266.7,767.1 266.8,765.2 266.9,763.3 267.0,761.6 267.2,759.8 267.3,758.1 267.5,756.3 267.6,754.5 267.8,752.6 268.0,750.6 268.1,748.5 268.2,746.2 268.3,743.8 268.4,741.3 268.5,738.7 268.6,736.1 268.7,733.5 268.8,731.0 268.9,728.6 269.0,726.2 269.0,723.7 269.1,721.2 269.2,718.7 269.2,716.4 269.3,714.4 269.3,712.6 269.4,711.3Z M266.3,715.6 265.9,716.1 265.3,716.8 264.5,717.6 263.7,718.5 262.9,719.4 262.0,720.3 261.2,721.2 260.4,721.9 259.6,722.5 258.8,723.2 257.9,723.8 257.0,724.4 256.2,725.0 255.5,725.6 255.0,726.2 254.6,726.5 254.7,726.7 255.2,726.5 256.0,726.3 256.8,725.9 257.7,725.4 258.6,724.8 259.5,724.2 260.4,723.6 261.3,723.0 262.2,722.2 263.1,721.4 264.0,720.5 264.9,719.7 265.8,718.8 266.6,718.0 267.2,717.4 267.7,716.9Z M266.2,721.9 265.7,722.7 265.1,723.8 264.4,725.1 263.6,726.5 262.7,728.0 261.9,729.4 261.0,730.8 260.2,731.9 259.5,732.8 258.7,733.7 257.9,734.4 257.1,735.2 256.3,735.9 255.5,736.6 254.8,737.4 254.2,738.1 253.6,738.9 253.1,739.8 252.7,740.6 252.3,741.4 252.1,742.2 252.0,742.9 251.8,743.5 251.6,743.9 251.8,744.0 252.0,743.6 252.3,743.1 252.7,742.5 253.2,741.9 253.7,741.1 254.1,740.3 254.6,739.6 255.1,738.9 255.7,738.2 256.4,737.6 257.2,736.9 258.0,736.2 258.8,735.5 259.7,734.7 260.6,733.8 261.4,732.8 262.3,731.6 263.2,730.3 264.1,728.9 265.1,727.4 265.9,726.0 266.7,724.8 267.4,723.7 267.9,722.9Z M265.9,731.8 265.6,732.5 265.1,733.5 264.5,734.6 263.8,735.8 263.1,737.0 262.4,738.3 261.7,739.5 261.0,740.6 260.3,741.6 259.5,742.7 258.6,743.8 257.7,744.9 256.9,745.9 256.2,746.8 255.7,747.7 255.3,748.3 255.5,748.5 256.0,748.0 256.9,747.4 257.7,746.6 258.6,745.6 259.5,744.6 260.5,743.5 261.4,742.4 262.2,741.4 262.9,740.3 263.7,739.1 264.5,737.9 265.3,736.6 266.0,735.4 266.7,734.4 267.2,733.5 267.6,732.8Z M265.7,743.0 265.3,743.7 264.9,744.7 264.4,745.8 263.8,747.0 263.2,748.3 262.6,749.5 262.0,750.7 261.4,751.7 260.9,752.7 260.3,753.7 259.6,754.6 259.0,755.5 258.4,756.3 257.8,757.1 257.3,757.8 256.7,758.4 256.2,758.9 255.7,759.2 255.2,759.5 254.8,759.9 254.4,760.2 254.0,760.4 253.6,760.6 253.4,760.7 253.5,760.9 253.7,760.8 254.1,760.7 254.6,760.6 255.1,760.6 255.7,760.5 256.3,760.1 256.9,759.7 257.5,759.2 258.1,758.6 258.8,757.9 259.4,757.1 260.1,756.3 260.8,755.4 261.4,754.4 262.1,753.5 262.7,752.5 263.4,751.5 264.0,750.3 264.7,749.0 265.4,747.8 266.0,746.6 266.6,745.5 267.0,744.6 267.4,743.9Z M265.3,754.2 265.0,754.9 264.5,755.7 264.0,756.7 263.4,757.9 262.8,759.1 262.1,760.4 261.5,761.7 261.0,763.0 260.4,764.4 259.9,765.9 259.3,767.6 258.8,769.2 258.3,770.8 257.8,772.2 257.7,773.5 257.5,774.4 257.7,774.4 258.1,773.6 258.8,772.5 259.3,771.1 259.9,769.6 260.4,767.9 261.0,766.4 261.6,764.8 262.2,763.5 262.8,762.3 263.4,761.0 264.1,759.8 264.7,758.6 265.3,757.5 265.9,756.5 266.4,755.6 266.7,755.0Z M267.4,716.7 267.8,717.4 268.3,718.3 268.9,719.4 269.6,720.6 270.4,721.9 271.1,723.2 271.9,724.3 272.6,725.4 273.3,726.2 274.1,727.1 274.8,727.8 275.6,728.5 276.4,729.2 277.1,729.8 277.8,730.4 278.5,731.0 279.2,731.7 279.9,732.3 280.7,732.9 281.4,733.5 282.1,733.9 282.8,734.3 283.4,734.6 283.8,734.9 283.9,734.7 283.6,734.4 283.1,733.9 282.7,733.3 282.1,732.6 281.4,732.0 280.7,731.4 280.0,730.8 279.3,730.1 278.7,729.5 278.0,728.9 277.2,728.2 276.5,727.5 275.8,726.8 275.1,726.1 274.5,725.3 273.8,724.4 273.2,723.5 272.5,722.3 271.8,721.1 271.2,719.8 270.5,718.6 270.0,717.4 269.5,716.5 269.1,715.8Z M267.4,724.1 267.8,724.9 268.3,725.9 268.9,727.2 269.6,728.7 270.3,730.1 271.1,731.6 271.9,732.9 272.7,734.0 273.5,734.9 274.4,735.7 275.4,736.5 276.3,737.1 277.2,737.7 278.1,738.1 278.8,738.3 279.3,738.6 279.5,738.4 279.0,738.0 278.5,737.4 277.8,736.8 276.9,736.2 276.1,735.5 275.2,734.8 274.5,734.0 273.8,733.2 273.1,732.1 272.4,730.8 271.8,729.4 271.1,728.0 270.5,726.5 270.0,725.2 269.5,724.1 269.1,723.3Z M267.1,735.2 267.5,736.0 267.9,737.0 268.5,738.3 269.1,739.7 269.8,741.2 270.5,742.6 271.2,743.9 271.8,745.1 272.6,746.1 273.3,747.1 274.1,748.0 274.9,748.8 275.7,749.5 276.5,750.2 277.2,750.8 277.8,751.3 278.5,751.8 279.1,752.1 279.7,752.2 280.3,752.2 280.8,752.2 281.2,752.2 281.6,752.2 281.9,752.2 281.9,752.0 281.6,751.9 281.3,751.9 280.9,751.7 280.4,751.6 280.0,751.3 279.5,751.1 279.0,750.8 278.5,750.4 277.9,749.9 277.3,749.3 276.6,748.6 275.8,747.9 275.1,747.1 274.4,746.2 273.7,745.3 273.1,744.3 272.5,743.2 271.9,741.9 271.3,740.5 270.7,739.0 270.1,737.6 269.6,736.3 269.2,735.2 268.9,734.4Z M266.4,747.6 266.8,748.4 267.4,749.4 268.1,750.6 268.8,751.9 269.6,753.3 270.3,754.8 271.1,756.1 271.8,757.4 272.5,758.7 273.2,760.0 273.9,761.3 274.6,762.6 275.2,763.9 275.8,765.1 276.4,766.2 276.9,767.2 277.3,768.1 277.7,768.9 278.0,769.6 278.4,770.2 278.7,770.7 279.0,771.2 279.2,771.6 279.3,772.0 279.5,771.9 279.4,771.5 279.3,771.1 279.2,770.6 279.1,769.9 279.0,769.2 278.7,768.5 278.3,767.6 277.9,766.7 277.5,765.7 277.0,764.6 276.4,763.3 275.7,762.0 275.1,760.7 274.4,759.3 273.8,758.0 273.2,756.7 272.5,755.4 271.8,754.0 271.1,752.5 270.3,751.1 269.7,749.7 269.0,748.5 268.5,747.5 268.1,746.7Z M265.8,761.1 266.0,761.6 266.3,762.4 266.6,763.3 267.0,764.3 267.4,765.3 267.7,766.4 268.1,767.4 268.4,768.4 268.7,769.4 269.0,770.4 269.2,771.5 269.5,772.5 269.7,773.5 270.0,774.4 270.4,775.1 270.6,775.7 270.9,775.6 270.8,775.0 270.9,774.2 270.8,773.3 270.6,772.3 270.4,771.2 270.1,770.1 269.9,769.0 269.6,768.0 269.4,767.0 269.0,766.0 268.7,764.9 268.4,763.8 268.0,762.8 267.7,761.9 267.5,761.1 267.3,760.5Z M260.1,733.1 259.9,732.9 259.6,732.7 259.3,732.3 259.0,731.9 258.6,731.5 258.2,731.2 257.7,730.9 257.3,730.6 256.8,730.6 256.3,730.6 255.8,730.7 255.4,730.8 255.0,731.0 254.6,731.1 254.4,731.4 254.1,731.5 254.2,731.7 254.4,731.6 254.8,731.7 255.2,731.7 255.6,731.6 256.0,731.5 256.4,731.4 256.7,731.5 257.0,731.5 257.2,731.7 257.5,731.9 257.8,732.3 258.1,732.7 258.4,733.1 258.7,733.4 258.9,733.8 259.1,734.0Z M275.9,736.7 276.3,736.5 276.8,736.3 277.3,736.1 277.7,735.9 278.2,735.7 278.6,735.5 279.1,735.3 279.4,734.9 279.4,734.7 278.8,734.6 278.4,734.7 277.9,734.8 277.4,735.0 276.9,735.1 276.4,735.2 276.0,735.3 275.5,735.4Z M259.8,755.2 259.3,755.1 258.9,755.0 258.4,754.9 257.9,754.8 257.4,754.6 256.9,754.5 256.5,754.4 255.9,754.5 255.9,754.7 256.2,755.1 256.7,755.3 257.1,755.5 257.6,755.7 258.0,755.9 258.5,756.1 258.9,756.3 259.4,756.5Z M275.1,762.6 275.6,762.5 276.1,762.3 276.6,762.1 277.1,761.9 277.6,761.7 278.0,761.5 278.5,761.3 278.9,760.9 278.9,760.7 278.3,760.6 277.8,760.7 277.3,760.8 276.8,761.0 276.3,761.1 275.8,761.2 275.3,761.3 274.8,761.4Z"/></g>
<g transform="translate(917.5,606.8) scale(-0.685,0.685) translate(-264,-179)" fill="#3a7343" color="#3a7343"><use href="#shootg"/></g>
<g fill="#3a7343" transform="translate(0.0,0.0)"><path d="M956.3,705.9 956.3,707.4 956.3,709.4 956.2,711.7 956.2,714.3 956.2,717.1 956.1,719.8 956.1,722.4 956.1,724.8 956.1,727.0 956.1,729.1 956.1,731.2 956.1,733.2 956.1,735.3 956.1,737.2 956.1,739.1 956.1,741.0 956.1,742.9 956.2,744.7 956.3,746.5 956.4,748.3 956.4,750.0 956.5,751.6 956.6,753.1 956.6,754.5 956.6,755.8 956.6,757.1 956.8,758.3 956.9,759.4 957.0,760.4 957.1,761.3 957.0,762.0 957.0,762.6 957.3,762.6 957.4,762.0 957.4,761.3 957.6,760.4 957.8,759.4 958.0,758.3 958.2,757.1 958.2,755.8 958.3,754.5 958.3,753.1 958.3,751.6 958.3,749.9 958.3,748.2 958.2,746.5 958.2,744.7 958.2,742.9 958.2,741.0 958.3,739.2 958.3,737.2 958.4,735.3 958.5,733.3 958.5,731.3 958.6,729.2 958.7,727.0 958.8,724.9 958.9,722.5 959.0,719.9 959.1,717.2 959.3,714.4 959.4,711.8 959.5,709.5 959.6,707.5 959.6,706.0Z M956.3,716.2 955.9,716.9 955.5,717.8 954.9,718.9 954.3,720.1 953.7,721.3 953.1,722.5 952.5,723.6 952.0,724.4 951.5,725.1 951.0,725.8 950.4,726.4 949.9,726.9 949.4,727.4 949.0,728.0 948.8,728.5 948.5,728.8 948.6,729.0 949.0,728.7 949.5,728.5 950.1,728.3 950.7,727.8 951.3,727.3 951.9,726.7 952.6,726.0 953.2,725.3 953.8,724.4 954.5,723.3 955.2,722.2 955.9,721.0 956.6,719.8 957.2,718.8 957.7,717.9 958.1,717.3Z M956.2,724.4 955.9,725.3 955.4,726.5 954.9,728.0 954.3,729.6 953.7,731.2 953.1,732.7 952.5,734.1 952.0,735.3 951.4,736.2 950.8,737.1 950.2,737.9 949.6,738.6 949.0,739.2 948.6,739.9 948.3,740.5 947.9,740.9 948.1,741.1 948.5,740.7 949.1,740.4 949.8,740.0 950.4,739.4 951.1,738.7 951.9,737.9 952.6,737.0 953.2,736.0 953.9,734.8 954.6,733.4 955.3,731.8 956.0,730.2 956.7,728.7 957.3,727.3 957.8,726.1 958.1,725.2Z M956.2,735.2 955.9,736.1 955.4,737.3 954.9,738.8 954.3,740.3 953.7,742.0 953.1,743.5 952.5,744.9 952.0,746.1 951.4,747.0 950.9,747.9 950.4,748.7 949.8,749.4 949.3,750.0 949.0,750.7 948.7,751.3 948.4,751.7 948.6,751.9 949.0,751.5 949.5,751.2 950.2,750.8 950.7,750.2 951.4,749.5 952.0,748.6 952.6,747.7 953.2,746.8 953.9,745.6 954.5,744.2 955.3,742.6 956.0,741.0 956.6,739.5 957.3,738.1 957.8,736.9 958.1,736.0Z M956.3,746.1 956.1,746.9 955.8,748.0 955.4,749.3 955.0,750.7 954.6,752.2 954.1,753.5 953.7,754.7 953.4,755.6 953.0,756.2 952.7,756.7 952.4,757.1 952.1,757.4 951.8,757.7 951.6,758.0 951.4,758.3 951.2,758.5 951.3,758.7 951.5,758.5 951.8,758.4 952.2,758.4 952.7,758.2 953.2,757.9 953.6,757.4 954.1,756.9 954.5,756.1 954.9,755.2 955.4,754.0 955.9,752.6 956.4,751.2 956.9,749.8 957.4,748.5 957.7,747.5 958.0,746.7Z M957.3,715.9 957.7,716.5 958.2,717.3 958.8,718.3 959.5,719.4 960.2,720.4 960.9,721.4 961.6,722.1 962.2,722.7 962.9,723.0 963.6,722.7 964.1,722.3 964.4,721.8 964.7,721.3 964.7,720.7 964.7,720.3 964.8,720.1 964.6,719.9 964.5,720.2 964.1,720.4 963.7,720.8 963.4,721.2 963.2,721.5 963.0,721.6 963.0,721.6 963.0,721.6 962.6,721.2 962.2,720.5 961.6,719.5 961.0,718.5 960.5,717.4 959.9,716.3 959.5,715.5 959.2,714.9Z M957.1,725.4 957.6,726.1 958.2,727.0 958.9,728.0 959.7,729.2 960.6,730.4 961.4,731.5 962.2,732.6 962.8,733.4 963.5,734.0 964.1,734.5 964.6,734.9 965.1,735.3 965.7,735.4 966.2,735.5 966.6,735.6 966.8,735.7 967.0,735.5 966.7,735.3 966.4,735.0 966.1,734.7 965.8,734.3 965.3,734.0 964.9,733.6 964.4,733.1 963.9,732.5 963.3,731.7 962.7,730.7 961.9,729.5 961.2,728.2 960.5,727.0 959.8,725.9 959.3,725.0 958.9,724.3Z M956.8,736.1 957.2,736.8 957.7,737.6 958.2,738.6 958.9,739.8 959.6,740.9 960.2,742.1 960.9,743.1 961.4,744.1 961.8,744.9 962.3,745.7 962.7,746.5 963.1,747.2 963.5,747.9 963.9,748.4 964.4,748.8 964.6,749.2 964.8,749.1 964.7,748.6 964.6,748.0 964.5,747.3 964.2,746.7 963.8,745.9 963.5,745.1 963.1,744.2 962.7,743.4 962.2,742.4 961.7,741.3 961.1,740.1 960.5,738.9 959.9,737.7 959.4,736.7 959.0,735.8 958.6,735.1Z M956.9,746.8 957.2,747.4 957.7,748.3 958.2,749.3 958.7,750.5 959.3,751.6 959.9,752.8 960.4,753.9 960.9,754.8 961.3,755.6 961.7,756.5 962.2,757.2 962.6,758.0 962.9,758.7 963.4,759.2 963.8,759.6 964.1,760.0 964.3,759.8 964.1,759.4 964.1,758.8 963.9,758.1 963.6,757.4 963.2,756.7 962.9,755.9 962.5,755.1 962.1,754.2 961.7,753.3 961.2,752.2 960.7,751.0 960.1,749.8 959.6,748.6 959.2,747.6 958.8,746.7 958.5,746.0Z"/></g>
<g transform="translate(1099.2,608.3) scale(0.656,0.656) translate(-264,-179)" fill="#3a7343" color="#3a7343"><use href="#shootc"/></g>
<g fill="#3a7343" transform="translate(0.0,0.0)"><path d="M1058.8,701.5 1059.3,702.4 1059.9,703.5 1060.7,704.8 1061.6,706.4 1062.5,708.0 1063.6,709.6 1064.7,711.1 1065.9,712.5 1067.2,713.8 1068.5,714.8 1069.9,715.8 1071.3,716.7 1072.7,717.6 1074.1,718.5 1075.5,719.5 1077.0,720.7 1078.6,721.9 1080.2,723.3 1081.9,724.8 1083.6,726.3 1085.4,727.9 1087.1,729.5 1088.9,731.0 1090.6,732.6 1092.4,734.1 1094.1,735.6 1095.9,737.0 1097.7,738.5 1099.4,740.0 1101.1,741.5 1102.7,743.0 1104.2,744.4 1105.6,745.9 1107.0,747.5 1108.3,749.1 1109.5,750.7 1110.7,752.2 1111.8,753.7 1112.8,755.1 1113.8,756.3 1114.7,757.4 1115.6,758.4 1116.4,759.3 1117.1,760.1 1117.7,760.9 1118.1,761.6 1118.5,762.2 1118.8,762.7 1119.1,762.5 1118.8,762.0 1118.4,761.4 1118.0,760.7 1117.5,759.8 1117.0,758.9 1116.4,757.8 1115.7,756.6 1115.0,755.4 1114.2,754.1 1113.2,752.7 1112.1,751.2 1111.0,749.6 1109.8,747.9 1108.5,746.3 1107.1,744.6 1105.7,743.0 1104.2,741.4 1102.6,739.9 1101.0,738.3 1099.2,736.8 1097.5,735.2 1095.7,733.7 1094.0,732.2 1092.3,730.6 1090.7,729.1 1089.0,727.5 1087.2,725.8 1085.5,724.2 1083.8,722.6 1082.2,721.1 1080.5,719.6 1079.0,718.2 1077.4,717.0 1075.9,715.9 1074.5,714.9 1073.1,713.9 1071.8,713.0 1070.6,712.1 1069.5,711.2 1068.5,710.2 1067.5,709.0 1066.6,707.6 1065.6,706.1 1064.8,704.5 1064.0,703.0 1063.2,701.7 1062.6,700.5 1062.1,699.6Z M1059.9,708.9 1060.2,710.2 1060.5,711.8 1060.9,713.8 1061.4,716.0 1061.9,718.3 1062.4,720.7 1062.9,722.9 1063.4,725.1 1063.9,727.1 1064.5,729.2 1065.0,731.2 1065.6,733.3 1066.1,735.3 1066.7,737.3 1067.2,739.3 1067.8,741.2 1068.3,743.2 1069.0,745.4 1069.6,747.5 1070.2,749.6 1070.8,751.6 1071.6,753.3 1072.2,754.8 1072.5,755.9 1072.7,755.8 1072.4,754.7 1072.2,753.1 1071.9,751.3 1071.5,749.3 1070.9,747.2 1070.4,745.0 1069.8,742.8 1069.3,740.8 1068.9,738.9 1068.4,736.9 1067.9,734.8 1067.4,732.8 1066.9,730.7 1066.5,728.7 1066.0,726.6 1065.6,724.6 1065.2,722.5 1064.7,720.2 1064.3,717.8 1063.9,715.5 1063.5,713.3 1063.2,711.3 1062.9,709.6 1062.6,708.4Z M1072.3,716.4 1073.4,716.7 1074.8,717.0 1076.5,717.5 1078.4,717.9 1080.4,718.4 1082.4,718.9 1084.2,719.3 1085.9,719.6 1087.5,719.9 1089.1,720.2 1090.7,720.5 1092.2,720.7 1093.6,720.9 1094.9,720.9 1096.0,720.8 1096.9,720.9 1096.9,720.7 1096.1,720.5 1095.1,720.1 1093.8,719.7 1092.4,719.5 1090.9,719.2 1089.3,718.9 1087.8,718.5 1086.2,718.2 1084.6,717.8 1082.8,717.3 1080.9,716.7 1078.9,716.2 1077.0,715.6 1075.3,715.1 1073.9,714.7 1072.9,714.4Z M1082.9,725.8 1084.2,726.4 1085.9,727.2 1087.9,728.1 1090.1,729.2 1092.5,730.2 1094.9,731.3 1097.2,732.3 1099.3,733.1 1101.3,733.8 1103.5,734.5 1105.7,735.2 1107.8,735.8 1109.8,736.3 1111.6,736.7 1113.2,736.8 1114.4,737.1 1114.4,736.9 1113.3,736.5 1111.9,735.8 1110.1,735.2 1108.2,734.6 1106.1,733.9 1103.9,733.2 1101.8,732.4 1099.8,731.7 1097.8,730.8 1095.6,729.8 1093.3,728.6 1091.0,727.5 1088.8,726.4 1086.8,725.4 1085.1,724.5 1083.8,723.9Z M1090.5,731.9 1090.9,733.1 1091.5,734.6 1092.3,736.5 1093.1,738.5 1093.9,740.6 1094.7,742.7 1095.5,744.8 1096.1,746.7 1096.8,748.5 1097.4,750.4 1098.0,752.4 1098.6,754.3 1099.2,756.1 1099.8,757.6 1100.4,758.9 1100.8,759.9 1101.0,759.9 1100.8,758.8 1100.7,757.4 1100.3,755.7 1099.8,753.9 1099.3,752.0 1098.7,750.0 1098.2,748.0 1097.6,746.2 1097.0,744.3 1096.3,742.2 1095.5,740.0 1094.8,737.8 1094.1,735.8 1093.4,733.9 1092.9,732.4 1092.5,731.2Z M1061.6,716.7 1061.6,718.0 1061.6,719.7 1061.6,721.8 1061.6,724.1 1061.6,726.4 1061.6,728.8 1061.7,731.0 1061.9,733.0 1062.1,734.8 1062.4,736.7 1062.8,738.4 1063.2,740.2 1063.6,741.7 1064.1,743.1 1064.7,744.2 1064.9,745.1 1065.2,745.0 1065.0,744.1 1065.0,742.9 1064.8,741.4 1064.4,739.9 1064.1,738.2 1063.8,736.4 1063.5,734.6 1063.4,732.9 1063.3,731.0 1063.3,728.8 1063.3,726.5 1063.4,724.1 1063.5,721.8 1063.6,719.8 1063.6,718.0 1063.7,716.8Z M1104.8,744.4 1105.9,744.5 1106.9,744.7 1107.9,744.8 1108.9,744.9 1109.9,745.0 1111.0,745.2 1112.0,745.3 1113.0,745.2 1113.1,745.0 1112.1,744.5 1111.1,744.3 1110.1,744.1 1109.1,743.9 1108.1,743.7 1107.1,743.5 1106.1,743.2 1105.1,743.0Z M1068.3,741.7 1069.2,742.0 1070.0,742.3 1070.9,742.6 1071.7,742.9 1072.6,743.2 1073.4,743.5 1074.3,743.8 1075.3,743.8 1075.3,743.6 1074.6,743.0 1073.8,742.6 1072.9,742.3 1072.1,741.9 1071.3,741.5 1070.5,741.1 1069.6,740.8 1068.8,740.4Z M1100.1,732.8 1100.4,732.4 1100.7,731.9 1101.0,731.4 1101.3,731.0 1101.6,730.5 1101.9,730.0 1102.2,729.6 1102.3,728.9 1102.2,728.8 1101.6,729.1 1101.2,729.5 1100.9,729.9 1100.5,730.3 1100.1,730.7 1099.8,731.1 1099.4,731.6 1099.0,732.0Z"/></g>
<g transform="translate(1065.8,541.2) scale(0.945,0.945) translate(-264,-179)" fill="#9e892f" color="#9e892f"><use href="#shoot"/></g>
<g fill="#9e892f" transform="translate(0.0,0.0)"><path d="M1006.0,695.1 1005.4,695.8 1004.6,696.8 1003.6,698.0 1002.5,699.2 1001.4,700.6 1000.3,701.9 999.3,703.2 998.4,704.3 997.6,705.4 996.9,706.3 996.3,707.3 995.6,708.2 995.1,709.0 994.5,709.9 994.0,710.8 993.5,711.6 993.1,712.5 992.6,713.4 992.2,714.3 991.8,715.2 991.8,716.1 991.7,717.0 991.7,717.7 991.4,718.1 991.9,718.3 992.1,717.9 992.6,717.4 993.2,716.8 993.9,716.2 994.3,715.4 994.8,714.5 995.3,713.7 995.8,712.9 996.3,712.2 996.8,711.4 997.4,710.6 998.0,709.8 998.6,709.0 999.3,708.2 1000.0,707.3 1000.8,706.4 1001.8,705.3 1002.8,704.2 1004.0,702.9 1005.2,701.7 1006.4,700.5 1007.5,699.4 1008.4,698.5 1009.0,697.8Z M1006.2,696.3 1005.8,697.2 1005.3,698.4 1004.6,699.8 1003.8,701.4 1003.0,703.2 1002.3,705.0 1001.6,706.8 1000.9,708.6 1000.4,710.3 1000.0,712.1 999.5,713.9 999.1,715.8 998.8,717.6 998.4,719.4 998.2,721.1 997.9,722.8 997.6,724.4 997.4,726.0 997.2,727.5 997.1,729.0 996.9,730.5 996.8,732.0 996.8,733.5 996.8,735.1 996.9,736.7 997.1,738.2 997.3,739.8 997.5,741.4 997.8,743.0 998.1,744.5 998.5,746.0 998.9,747.4 999.3,748.8 999.9,750.2 1000.4,751.5 1001.0,752.7 1001.6,753.9 1002.1,755.1 1002.6,756.2 1003.0,757.3 1003.4,758.5 1003.7,759.8 1004.1,761.0 1004.4,762.2 1004.7,763.4 1004.9,764.6 1005.0,765.7 1005.0,766.7 1005.0,767.7 1004.9,768.8 1004.8,769.7 1004.6,770.7 1004.3,771.6 1004.1,772.5 1003.7,773.3 1003.4,773.9 1003.0,774.5 1002.6,775.0 1002.1,775.5 1001.6,776.0 1001.0,776.5 1000.4,777.0 999.8,777.5 999.2,778.1 998.7,778.6 998.2,779.1 997.6,779.6 997.1,780.1 996.6,780.5 996.2,780.8 995.8,781.1 995.5,781.3 995.8,781.8 996.1,781.6 996.5,781.3 997.0,781.0 997.5,780.6 998.1,780.2 998.7,779.9 999.4,779.5 1000.0,779.2 1000.6,778.9 1001.3,778.6 1002.1,778.3 1002.8,777.9 1003.7,777.5 1004.4,776.9 1005.1,776.2 1005.7,775.4 1006.2,774.5 1006.6,773.5 1007.0,772.5 1007.4,771.4 1007.6,770.3 1007.8,769.1 1008.0,767.9 1008.0,766.7 1008.0,765.5 1007.9,764.2 1007.7,762.9 1007.4,761.6 1007.1,760.3 1006.8,758.9 1006.5,757.6 1006.1,756.3 1005.7,755.0 1005.2,753.7 1004.7,752.5 1004.1,751.3 1003.6,750.1 1003.1,748.9 1002.7,747.7 1002.3,746.5 1002.0,745.1 1001.7,743.7 1001.5,742.3 1001.2,740.8 1001.1,739.4 1000.9,737.9 1000.8,736.4 1000.8,735.0 1000.8,733.6 1000.9,732.2 1001.0,730.9 1001.1,729.5 1001.3,728.0 1001.6,726.6 1001.8,725.1 1002.1,723.5 1002.4,721.9 1002.8,720.2 1003.1,718.5 1003.5,716.7 1003.9,715.0 1004.4,713.3 1004.9,711.6 1005.4,710.1 1006.0,708.5 1006.7,706.9 1007.5,705.2 1008.3,703.6 1009.0,702.0 1009.7,700.6 1010.4,699.4 1010.8,698.5Z M997.8,738.8 997.7,739.4 997.5,740.3 997.3,741.3 997.1,742.4 996.9,743.6 996.8,744.7 996.6,745.8 996.5,746.8 996.4,747.7 996.3,748.7 996.2,749.6 996.2,750.5 996.2,751.4 996.3,752.1 996.5,752.8 996.5,753.3 996.8,753.3 996.9,752.8 997.2,752.2 997.4,751.5 997.5,750.6 997.6,749.8 997.7,748.8 997.8,747.9 998.0,747.0 998.2,746.1 998.4,745.0 998.7,743.9 999.0,742.8 999.2,741.7 999.5,740.7 999.7,739.8 999.9,739.2Z M1005.0,761.1 1005.2,761.5 1005.4,762.1 1005.7,762.8 1005.9,763.6 1006.2,764.4 1006.4,765.3 1006.6,766.1 1006.8,766.8 1006.9,767.6 1007.0,768.5 1007.0,769.4 1007.0,770.3 1007.0,771.1 1007.0,771.9 1007.3,772.6 1007.4,773.1 1007.7,773.1 1007.8,772.6 1008.1,771.9 1008.2,771.2 1008.2,770.3 1008.3,769.4 1008.3,768.4 1008.3,767.5 1008.3,766.6 1008.1,765.8 1008.0,764.9 1007.8,764.0 1007.5,763.1 1007.3,762.3 1007.1,761.6 1007.0,761.0 1006.8,760.5Z M999.4,777.8 998.9,778.0 998.4,778.1 997.9,778.3 997.5,778.5 997.0,778.6 996.5,778.8 996.0,778.9 995.6,779.5 995.7,779.7 996.3,780.0 996.8,779.9 997.3,779.8 997.8,779.8 998.3,779.7 998.8,779.6 999.3,779.5 999.8,779.4Z M1008.9,698.9 1008.7,700.0 1008.3,701.5 1007.9,703.3 1007.4,705.3 1006.9,707.3 1006.5,709.4 1006.2,711.4 1006.0,713.2 1006.1,714.7 1006.2,716.2 1006.4,717.5 1006.7,718.8 1007.1,720.0 1007.4,721.2 1007.8,722.3 1008.1,723.5 1008.5,724.8 1008.9,726.1 1009.3,727.5 1009.8,728.8 1010.2,730.0 1010.6,731.3 1011.0,732.4 1011.3,733.4 1011.6,734.3 1011.8,735.2 1012.3,736.1 1012.7,736.8 1013.1,737.5 1013.4,738.1 1013.5,738.6 1013.6,739.1 1014.1,739.0 1014.0,738.5 1013.9,738.0 1014.0,737.3 1014.0,736.5 1014.1,735.6 1014.1,734.7 1013.9,733.7 1013.6,732.7 1013.4,731.7 1013.0,730.5 1012.7,729.3 1012.3,728.0 1011.9,726.7 1011.5,725.3 1011.2,724.1 1010.9,722.8 1010.6,721.6 1010.3,720.4 1010.0,719.2 1009.7,718.1 1009.5,717.0 1009.4,715.8 1009.3,714.7 1009.4,713.4 1009.6,711.9 1010.0,710.1 1010.4,708.2 1011.0,706.2 1011.6,704.3 1012.1,702.5 1012.5,701.0 1012.8,699.9Z M1010.8,698.2 1011.1,699.1 1011.6,700.4 1012.1,702.0 1012.7,703.7 1013.3,705.5 1014.0,707.3 1014.8,709.0 1015.5,710.4 1016.3,711.6 1017.2,712.6 1018.0,713.5 1018.9,714.3 1019.7,714.9 1020.5,715.5 1021.2,716.1 1022.0,716.8 1022.7,717.5 1023.6,718.2 1024.4,718.8 1025.1,719.4 1025.8,720.0 1026.4,720.6 1027.0,721.3 1027.7,722.2 1028.3,723.3 1028.9,724.5 1029.6,725.9 1030.2,727.4 1030.8,729.0 1031.4,730.6 1032.0,732.2 1032.6,733.7 1033.2,735.1 1033.7,736.5 1034.2,738.0 1034.7,739.4 1035.2,740.8 1035.7,742.3 1036.2,743.8 1036.8,745.4 1037.3,747.0 1037.8,748.8 1038.4,750.5 1039.0,752.3 1039.5,754.0 1040.0,755.8 1040.5,757.5 1040.9,759.1 1041.3,760.7 1041.6,762.2 1041.9,763.7 1042.2,765.1 1042.4,766.6 1042.6,768.0 1042.8,769.4 1043.1,770.8 1043.3,772.3 1043.6,773.8 1043.9,775.4 1044.3,776.9 1044.5,778.4 1044.8,779.7 1044.8,780.8 1044.9,781.6 1045.4,781.6 1045.3,780.7 1045.2,779.6 1045.2,778.3 1045.3,776.8 1045.3,775.3 1045.4,773.7 1045.4,772.1 1045.3,770.6 1045.1,769.1 1044.9,767.7 1044.7,766.2 1044.5,764.7 1044.3,763.2 1044.1,761.7 1043.8,760.1 1043.4,758.5 1043.1,756.8 1042.6,755.1 1042.2,753.3 1041.7,751.5 1041.2,749.7 1040.7,747.9 1040.2,746.2 1039.7,744.5 1039.2,742.9 1038.8,741.4 1038.3,739.9 1037.8,738.4 1037.4,736.9 1036.9,735.4 1036.4,734.0 1035.9,732.5 1035.3,730.9 1034.8,729.3 1034.2,727.7 1033.6,726.1 1033.0,724.5 1032.4,722.9 1031.7,721.5 1031.0,720.2 1030.2,719.0 1029.4,718.0 1028.5,717.1 1027.7,716.3 1026.9,715.7 1026.2,715.0 1025.5,714.4 1024.8,713.7 1024.0,713.0 1023.2,712.3 1022.4,711.6 1021.7,711.0 1021.0,710.4 1020.4,709.8 1019.9,709.1 1019.3,708.2 1018.8,707.1 1018.2,705.6 1017.6,704.0 1017.1,702.3 1016.5,700.6 1016.1,699.0 1015.7,697.6 1015.3,696.7Z M1017.6,712.5 1017.7,713.7 1018.0,715.2 1018.3,717.0 1018.6,718.9 1018.9,721.1 1019.2,723.2 1019.5,725.3 1019.8,727.3 1020.1,729.3 1020.3,731.3 1020.6,733.3 1020.8,735.4 1021.0,737.4 1021.3,739.4 1021.5,741.3 1021.7,743.1 1021.9,744.8 1022.2,746.5 1022.4,748.2 1022.6,749.7 1022.8,751.2 1023.0,752.6 1023.2,753.9 1023.3,755.0 1023.6,755.9 1023.9,756.8 1024.2,757.5 1024.4,758.1 1024.6,758.6 1024.6,759.1 1024.7,759.5 1024.7,759.8 1025.2,759.8 1025.1,759.4 1025.1,759.0 1025.0,758.6 1025.1,758.0 1025.1,757.4 1025.2,756.6 1025.3,755.7 1025.4,754.7 1025.3,753.6 1025.1,752.3 1025.0,750.9 1024.9,749.5 1024.7,747.9 1024.5,746.2 1024.4,744.6 1024.2,742.8 1024.1,741.0 1023.9,739.1 1023.8,737.1 1023.6,735.1 1023.5,733.0 1023.3,731.0 1023.1,728.9 1023.0,726.9 1022.7,724.9 1022.5,722.8 1022.3,720.6 1022.0,718.5 1021.8,716.5 1021.6,714.7 1021.4,713.2 1021.3,712.0Z M1030.5,737.6 1030.2,738.6 1029.8,739.8 1029.3,741.4 1028.8,743.0 1028.2,744.8 1027.6,746.5 1027.1,748.1 1026.7,749.6 1026.2,750.9 1025.8,752.2 1025.4,753.5 1025.0,754.8 1024.7,755.9 1024.7,757.0 1024.8,758.0 1024.7,758.7 1025.2,758.9 1025.5,758.2 1026.2,757.5 1026.8,756.6 1027.1,755.4 1027.5,754.2 1027.9,752.9 1028.4,751.6 1028.8,750.2 1029.3,748.8 1029.8,747.2 1030.4,745.5 1031.0,743.8 1031.6,742.1 1032.1,740.6 1032.5,739.3 1032.8,738.4Z M1024.5,717.3 1025.3,717.8 1026.3,718.5 1027.4,719.2 1028.7,720.1 1030.0,721.0 1031.3,721.9 1032.5,722.9 1033.6,723.8 1034.6,724.8 1035.7,726.0 1036.7,727.2 1037.7,728.5 1038.7,729.7 1039.5,730.7 1040.5,731.5 1041.1,732.2 1041.3,732.0 1040.8,731.2 1040.4,730.1 1039.7,728.9 1038.9,727.6 1037.9,726.3 1036.9,724.9 1035.9,723.7 1034.9,722.5 1033.8,721.4 1032.6,720.3 1031.3,719.2 1030.1,718.2 1028.8,717.3 1027.7,716.4 1026.8,715.7 1026.1,715.2Z M1036.4,743.4 1036.9,744.3 1037.6,745.6 1038.4,747.2 1039.3,748.8 1040.2,750.6 1041.1,752.3 1041.9,753.8 1042.6,755.1 1043.1,756.3 1043.6,757.3 1044.1,758.4 1044.5,759.3 1044.9,760.1 1045.4,760.8 1045.8,761.3 1046.0,761.8 1046.3,761.7 1046.1,761.2 1046.0,760.5 1045.9,759.7 1045.6,758.8 1045.2,757.9 1044.8,756.8 1044.3,755.7 1043.8,754.6 1043.2,753.2 1042.4,751.6 1041.6,749.9 1040.7,748.1 1039.9,746.4 1039.2,744.8 1038.5,743.5 1038.1,742.5Z M1040.4,759.1 1040.8,759.9 1041.2,761.0 1041.8,762.3 1042.4,763.8 1043.0,765.3 1043.6,766.7 1044.1,767.9 1044.6,769.0 1045.0,769.8 1045.3,770.5 1045.6,771.1 1045.9,771.6 1046.3,771.9 1046.6,772.2 1046.9,772.5 1047.0,772.7 1047.2,772.6 1047.1,772.3 1047.0,772.0 1047.0,771.6 1046.9,771.0 1046.6,770.5 1046.4,770.0 1046.0,769.3 1045.7,768.5 1045.3,767.5 1044.8,766.2 1044.3,764.7 1043.7,763.3 1043.2,761.8 1042.7,760.4 1042.2,759.3 1041.9,758.5Z"/></g>
<text transform="translate(443.50,716.90) scale(1.0400,1.0000)" font-family="'Liberation Sans',sans-serif" font-size="29.30" fill="#000" text-anchor="middle" stroke="#000" stroke-width="0.6">+</text>
<polygon points="490.9,695.2 507.2,685.9 507.2,704.9" fill="#000"/><line x1="506.5" y1="695.3" x2="519.2" y2="695.3" stroke="#000" stroke-width="1.9"/>
<text transform="translate(972.20,716.20) scale(1.0800,1.0000)" font-family="'Liberation Sans',sans-serif" font-size="31.50" fill="#000" text-anchor="middle" stroke="#000" stroke-width="0.4">-</text>
<polygon points="1106.3,697.8 1088.6,687.6 1088.6,708.0" fill="#000"/><line x1="1077.9" y1="697.8" x2="1089.5" y2="697.8" stroke="#000" stroke-width="1.9"/>
</g>
</svg>
</body></html>
